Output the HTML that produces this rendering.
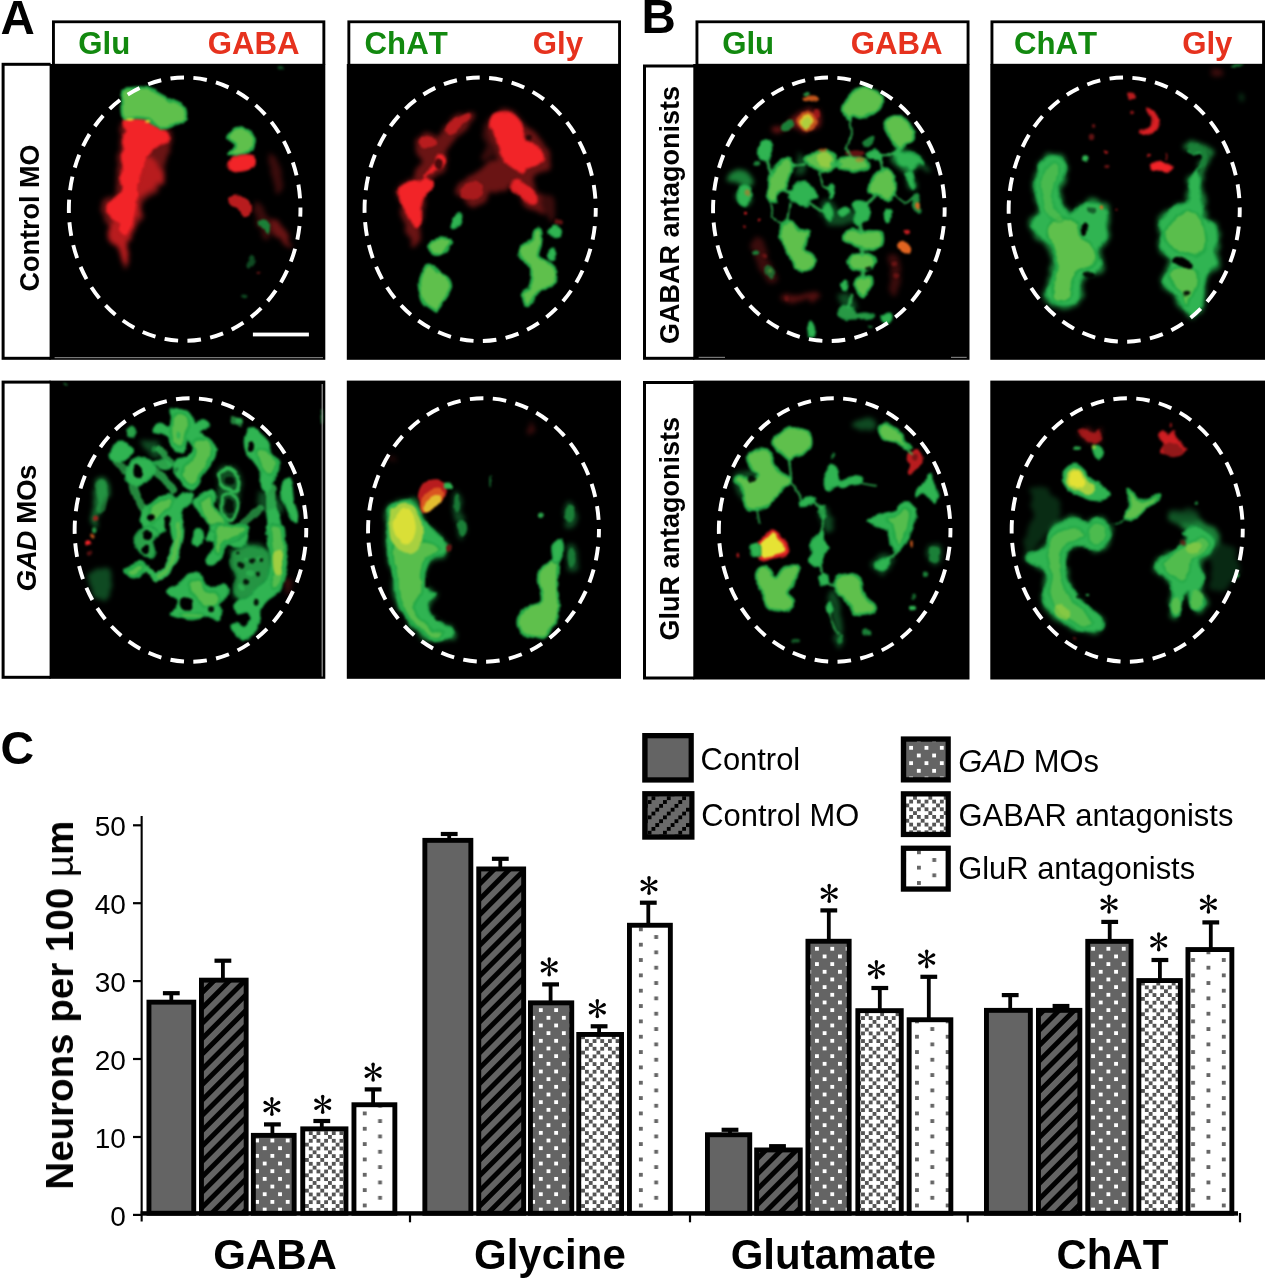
<!DOCTYPE html>
<html><head><meta charset="utf-8"><title>Figure</title>
<style>
html,body{margin:0;padding:0;background:#fff;}
svg{display:block;font-family:"Liberation Sans",sans-serif;font-kerning:none;}
</style></head><body>
<svg width="1267" height="1280" viewBox="0 0 1267 1280">
<defs>
<pattern id="pdotw" x="9.66" y="3.44" width="15.34" height="15.34" patternUnits="userSpaceOnUse"><rect width="15.34" height="15.34" fill="#646464"/><rect width="3.83" height="3.83" fill="#fff"/><rect x="7.67" y="7.67" width="3.83" height="3.83" fill="#fff"/></pattern>
<pattern id="pdotg" x="25.32" y="7.02" width="30.68" height="15.34" patternUnits="userSpaceOnUse"><rect width="30.68" height="15.34" fill="#fff"/><rect width="3.83" height="3.83" fill="#666"/><rect x="15.34" y="7.67" width="3.83" height="3.83" fill="#666"/></pattern>
<pattern id="ptrel" x="13.54" y="11.38" width="15.34" height="15.34" patternUnits="userSpaceOnUse"><rect width="15.34" height="15.34" fill="#fff"/><rect x="3.83" y="0" width="3.83" height="3.83" fill="#555"/><rect x="11.5" y="0" width="3.83" height="3.83" fill="#555"/><rect x="7.67" y="3.83" width="3.83" height="3.83" fill="#555"/><rect x="3.83" y="7.67" width="3.83" height="3.83" fill="#555"/><rect x="11.5" y="7.67" width="3.83" height="3.83" fill="#555"/><rect x="0" y="11.5" width="3.83" height="3.83" fill="#555"/></pattern>
<pattern id="phatch" x="0" y="1.03" width="10.85" height="10.85" patternUnits="userSpaceOnUse" patternTransform="rotate(-45)"><rect width="10.85" height="10.85" fill="#000"/><rect width="10.85" height="5.9" fill="#646464"/></pattern>
<pattern id="pstair" x="651.5" y="800.1" width="15.34" height="15.34" patternUnits="userSpaceOnUse"><rect width="15.34" height="15.34" fill="#6a6a6a"/><rect x="0" y="11.5" width="3.83" height="3.83" fill="#000"/><rect x="3.83" y="7.67" width="3.83" height="3.83" fill="#000"/><rect x="7.67" y="3.83" width="3.83" height="3.83" fill="#000"/><rect x="11.5" y="0" width="3.83" height="3.83" fill="#000"/></pattern>
<pattern id="ldotw" x="909.2" y="745.9" width="15.34" height="15.34" patternUnits="userSpaceOnUse"><rect width="15.34" height="15.34" fill="#646464"/><rect width="3.83" height="3.83" fill="#fff"/><rect x="7.67" y="7.67" width="3.83" height="3.83" fill="#fff"/></pattern>
<pattern id="ltrel" x="905.4" y="792" width="15.34" height="15.34" patternUnits="userSpaceOnUse"><rect width="15.34" height="15.34" fill="#fff"/><rect x="3.83" y="0" width="3.83" height="3.83" fill="#555"/><rect x="11.5" y="0" width="3.83" height="3.83" fill="#555"/><rect x="7.67" y="3.83" width="3.83" height="3.83" fill="#555"/><rect x="3.83" y="7.67" width="3.83" height="3.83" fill="#555"/><rect x="11.5" y="7.67" width="3.83" height="3.83" fill="#555"/><rect x="0" y="11.5" width="3.83" height="3.83" fill="#555"/></pattern>
<pattern id="ldotg" x="917" y="850.4" width="30.68" height="15.34" patternUnits="userSpaceOnUse"><rect width="30.68" height="15.34" fill="#fff"/><rect width="3.83" height="3.83" fill="#666"/><rect x="15.34" y="7.67" width="3.83" height="3.83" fill="#666"/></pattern>
<clipPath id="cp1"><rect x="49.5" y="64" width="275.8" height="295.8"/></clipPath>
<filter id="frp1" filterUnits="userSpaceOnUse" x="49.5" y="64" width="275.8" height="295.8" color-interpolation-filters="sRGB"><feTurbulence type="fractalNoise" baseFrequency="0.07" numOctaves="2" seed="4" result="n"/><feDisplacementMap in="SourceGraphic" in2="n" scale="5.5" xChannelSelector="R" yChannelSelector="G" result="d"/><feGaussianBlur in="d" stdDeviation="1.25"/></filter>
<filter id="fhp1" filterUnits="userSpaceOnUse" x="49.5" y="64" width="275.8" height="295.8" color-interpolation-filters="sRGB"><feTurbulence type="fractalNoise" baseFrequency="0.09" numOctaves="2" seed="12" result="n"/><feDisplacementMap in="SourceGraphic" in2="n" scale="9" xChannelSelector="G" yChannelSelector="R" result="d"/><feGaussianBlur in="d" stdDeviation="2.6"/></filter>
<clipPath id="cp2"><rect x="346.8" y="64" width="274.2" height="295.8"/></clipPath>
<filter id="frp2" filterUnits="userSpaceOnUse" x="346.8" y="64" width="274.2" height="295.8" color-interpolation-filters="sRGB"><feTurbulence type="fractalNoise" baseFrequency="0.07" numOctaves="2" seed="5" result="n"/><feDisplacementMap in="SourceGraphic" in2="n" scale="5.5" xChannelSelector="R" yChannelSelector="G" result="d"/><feGaussianBlur in="d" stdDeviation="1.25"/></filter>
<filter id="fhp2" filterUnits="userSpaceOnUse" x="346.8" y="64" width="274.2" height="295.8" color-interpolation-filters="sRGB"><feTurbulence type="fractalNoise" baseFrequency="0.09" numOctaves="2" seed="13" result="n"/><feDisplacementMap in="SourceGraphic" in2="n" scale="9" xChannelSelector="G" yChannelSelector="R" result="d"/><feGaussianBlur in="d" stdDeviation="2.6"/></filter>
<clipPath id="cp3"><rect x="693.2" y="64" width="276.3" height="295.8"/></clipPath>
<filter id="frp3" filterUnits="userSpaceOnUse" x="693.2" y="64" width="276.3" height="295.8" color-interpolation-filters="sRGB"><feTurbulence type="fractalNoise" baseFrequency="0.07" numOctaves="2" seed="6" result="n"/><feDisplacementMap in="SourceGraphic" in2="n" scale="5.5" xChannelSelector="R" yChannelSelector="G" result="d"/><feGaussianBlur in="d" stdDeviation="1.25"/></filter>
<filter id="fhp3" filterUnits="userSpaceOnUse" x="693.2" y="64" width="276.3" height="295.8" color-interpolation-filters="sRGB"><feTurbulence type="fractalNoise" baseFrequency="0.09" numOctaves="2" seed="14" result="n"/><feDisplacementMap in="SourceGraphic" in2="n" scale="9" xChannelSelector="G" yChannelSelector="R" result="d"/><feGaussianBlur in="d" stdDeviation="2.6"/></filter>
<clipPath id="cp4"><rect x="990.3" y="64" width="274.7" height="295.8"/></clipPath>
<filter id="frp4" filterUnits="userSpaceOnUse" x="990.3" y="64" width="274.7" height="295.8" color-interpolation-filters="sRGB"><feTurbulence type="fractalNoise" baseFrequency="0.07" numOctaves="2" seed="7" result="n"/><feDisplacementMap in="SourceGraphic" in2="n" scale="5.5" xChannelSelector="R" yChannelSelector="G" result="d"/><feGaussianBlur in="d" stdDeviation="1.25"/></filter>
<filter id="fhp4" filterUnits="userSpaceOnUse" x="990.3" y="64" width="274.7" height="295.8" color-interpolation-filters="sRGB"><feTurbulence type="fractalNoise" baseFrequency="0.09" numOctaves="2" seed="15" result="n"/><feDisplacementMap in="SourceGraphic" in2="n" scale="9" xChannelSelector="G" yChannelSelector="R" result="d"/><feGaussianBlur in="d" stdDeviation="2.6"/></filter>
<clipPath id="cp5"><rect x="49.5" y="380.6" width="275.8" height="298.2"/></clipPath>
<filter id="frp5" filterUnits="userSpaceOnUse" x="49.5" y="380.6" width="275.8" height="298.2" color-interpolation-filters="sRGB"><feTurbulence type="fractalNoise" baseFrequency="0.07" numOctaves="2" seed="8" result="n"/><feDisplacementMap in="SourceGraphic" in2="n" scale="5.5" xChannelSelector="R" yChannelSelector="G" result="d"/><feGaussianBlur in="d" stdDeviation="1.25"/></filter>
<filter id="fhp5" filterUnits="userSpaceOnUse" x="49.5" y="380.6" width="275.8" height="298.2" color-interpolation-filters="sRGB"><feTurbulence type="fractalNoise" baseFrequency="0.09" numOctaves="2" seed="16" result="n"/><feDisplacementMap in="SourceGraphic" in2="n" scale="9" xChannelSelector="G" yChannelSelector="R" result="d"/><feGaussianBlur in="d" stdDeviation="2.6"/></filter>
<clipPath id="cp6"><rect x="346.8" y="380.6" width="274.2" height="298.2"/></clipPath>
<filter id="frp6" filterUnits="userSpaceOnUse" x="346.8" y="380.6" width="274.2" height="298.2" color-interpolation-filters="sRGB"><feTurbulence type="fractalNoise" baseFrequency="0.07" numOctaves="2" seed="9" result="n"/><feDisplacementMap in="SourceGraphic" in2="n" scale="5.5" xChannelSelector="R" yChannelSelector="G" result="d"/><feGaussianBlur in="d" stdDeviation="1.25"/></filter>
<filter id="fhp6" filterUnits="userSpaceOnUse" x="346.8" y="380.6" width="274.2" height="298.2" color-interpolation-filters="sRGB"><feTurbulence type="fractalNoise" baseFrequency="0.09" numOctaves="2" seed="17" result="n"/><feDisplacementMap in="SourceGraphic" in2="n" scale="9" xChannelSelector="G" yChannelSelector="R" result="d"/><feGaussianBlur in="d" stdDeviation="2.6"/></filter>
<clipPath id="cp7"><rect x="693.2" y="380.6" width="276.3" height="298.9"/></clipPath>
<filter id="frp7" filterUnits="userSpaceOnUse" x="693.2" y="380.6" width="276.3" height="298.9" color-interpolation-filters="sRGB"><feTurbulence type="fractalNoise" baseFrequency="0.07" numOctaves="2" seed="10" result="n"/><feDisplacementMap in="SourceGraphic" in2="n" scale="5.5" xChannelSelector="R" yChannelSelector="G" result="d"/><feGaussianBlur in="d" stdDeviation="1.25"/></filter>
<filter id="fhp7" filterUnits="userSpaceOnUse" x="693.2" y="380.6" width="276.3" height="298.9" color-interpolation-filters="sRGB"><feTurbulence type="fractalNoise" baseFrequency="0.09" numOctaves="2" seed="18" result="n"/><feDisplacementMap in="SourceGraphic" in2="n" scale="9" xChannelSelector="G" yChannelSelector="R" result="d"/><feGaussianBlur in="d" stdDeviation="2.6"/></filter>
<clipPath id="cp8"><rect x="990.3" y="380.6" width="274.7" height="298.9"/></clipPath>
<filter id="frp8" filterUnits="userSpaceOnUse" x="990.3" y="380.6" width="274.7" height="298.9" color-interpolation-filters="sRGB"><feTurbulence type="fractalNoise" baseFrequency="0.07" numOctaves="2" seed="11" result="n"/><feDisplacementMap in="SourceGraphic" in2="n" scale="5.5" xChannelSelector="R" yChannelSelector="G" result="d"/><feGaussianBlur in="d" stdDeviation="1.25"/></filter>
<filter id="fhp8" filterUnits="userSpaceOnUse" x="990.3" y="380.6" width="274.7" height="298.9" color-interpolation-filters="sRGB"><feTurbulence type="fractalNoise" baseFrequency="0.09" numOctaves="2" seed="19" result="n"/><feDisplacementMap in="SourceGraphic" in2="n" scale="9" xChannelSelector="G" yChannelSelector="R" result="d"/><feGaussianBlur in="d" stdDeviation="2.6"/></filter>
</defs>
<rect width="1267" height="1280" fill="#fff"/>
<rect x="49.5" y="64" width="275.8" height="295.8" fill="#000"/>
<rect x="346.8" y="64" width="274.2" height="295.8" fill="#000"/>
<rect x="693.2" y="64" width="276.3" height="295.8" fill="#000"/>
<rect x="990.3" y="64" width="274.7" height="295.8" fill="#000"/>
<rect x="49.5" y="380.6" width="275.8" height="298.2" fill="#000"/>
<rect x="346.8" y="380.6" width="274.2" height="298.2" fill="#000"/>
<rect x="693.2" y="380.6" width="276.3" height="298.9" fill="#000"/>
<rect x="990.3" y="380.6" width="274.7" height="298.9" fill="#000"/>
<rect x="52" y="20.4" width="273.3" height="44.1" fill="#000"/>
<rect x="54.9" y="23.2" width="267.5" height="40.6" fill="#fff"/>
<rect x="347.4" y="20.4" width="273.6" height="44.1" fill="#000"/>
<rect x="350.3" y="23.2" width="267.8" height="40.6" fill="#fff"/>
<rect x="695.5" y="20.4" width="274" height="44.1" fill="#000"/>
<rect x="698.4" y="23.2" width="268.2" height="40.6" fill="#fff"/>
<rect x="990.5" y="20.4" width="274.5" height="44.1" fill="#000"/>
<rect x="993.4" y="23.2" width="268.7" height="40.6" fill="#fff"/>
<rect x="1.6" y="62.8" width="49" height="297" fill="#000"/>
<rect x="4.6" y="65.8" width="45" height="291" fill="#fff"/>
<rect x="1.6" y="380.6" width="49" height="298.2" fill="#000"/>
<rect x="4.6" y="383.6" width="45" height="292.2" fill="#fff"/>
<rect x="643" y="64.5" width="51.3" height="295.3" fill="#000"/>
<rect x="646" y="67.5" width="47.3" height="289.3" fill="#fff"/>
<rect x="643" y="381" width="51.3" height="298.5" fill="#000"/>
<rect x="646" y="384" width="47.3" height="292.5" fill="#fff"/>
<g clip-path="url(#cp1)"><g filter="url(#fhp1)"><path d="M122.83,121.8C127.26,118.72 139.21,117.95 147.11,119.49C155.01,121.03 165.99,127.2 170.23,131.05C174.47,134.91 173.31,137.6 172.54,142.61C171.77,147.62 166.76,155.71 165.61,161.11C164.45,166.5 166.76,170.36 165.61,174.98C164.45,179.61 162.14,184.62 158.67,188.86C155.2,193.09 147.69,195.79 144.8,200.42C141.91,205.04 142.87,211.59 141.33,216.6C139.79,221.61 137.48,225.46 135.55,230.47C133.62,235.48 130.92,240.49 129.77,246.66C128.61,252.82 129.65,264.39 128.61,267.47C127.57,270.55 125.45,267.85 123.53,265.16C121.6,262.46 119.48,255.91 117.05,251.28C114.62,246.66 110.31,241.65 108.96,237.41C107.61,233.17 110.12,230.09 108.96,225.85C107.8,221.61 102.79,216.41 102.02,211.98C101.25,207.55 102.22,202.34 104.34,199.26C106.45,196.18 112.62,197.53 114.74,193.48C116.86,189.43 116.28,181.15 117.05,174.98C117.82,168.82 118.79,162.65 119.36,156.49C119.94,150.32 119.94,143.77 120.52,137.99C121.1,132.21 118.4,124.89 122.83,121.8Z" fill="#6a1414"/>
<path d="M142.49,156.49C146.34,153.79 152.81,160.72 156.36,163.42C159.9,166.12 162.99,169.39 163.76,172.67C164.53,175.95 162.99,180.18 160.98,183.08C158.98,185.97 155.01,187.51 151.73,190.01C148.46,192.52 143.64,193.67 141.33,198.1C139.02,202.54 139.6,211.21 137.86,216.6C136.13,222 132.47,225.08 130.92,230.47C129.38,235.87 129.31,243.27 128.61,248.97C127.92,254.67 127.61,262.57 126.76,264.69C125.92,266.81 124.76,263.92 123.53,261.69C122.29,259.45 121.02,254.37 119.36,251.28C117.71,248.2 115.2,245.89 113.58,243.19C111.97,240.49 110.04,237.99 109.65,235.1C109.27,232.21 109.65,231.24 111.27,225.85C112.89,220.45 115.7,210.44 119.36,202.73C123.03,195.02 129.38,187.31 133.24,179.61C137.09,171.9 138.63,159.18 142.49,156.49Z" fill="#b81c1e"/>
<path d="M268.5,154.17C269.27,151.48 273.31,153.4 275.43,156.49C277.55,159.57 280.44,166.5 281.21,172.67C281.98,178.84 281.21,190.78 280.06,193.48C278.9,196.18 275.82,192.32 274.28,188.86C272.74,185.39 271.77,178.45 270.81,172.67C269.85,166.89 267.73,156.87 268.5,154.17Z" fill="#3a0c0c"/>
<path d="M268.5,218.91C269.65,216.99 275.63,218.53 278.9,221.23C282.18,223.92 286.42,230.86 288.15,235.1C289.88,239.34 290.46,245.5 289.31,246.66C288.15,247.82 284.1,244.35 281.21,242.03C278.32,239.72 274.08,236.64 271.97,232.79C269.85,228.93 267.34,220.84 268.5,218.91Z" fill="#6a1414"/>
<path d="M253.47,202.73C254.62,200.42 261.95,208.12 265.03,211.98C268.11,215.83 271.58,221.23 271.97,225.85C272.35,230.47 269.65,239.72 267.34,239.72C265.03,239.72 260.4,232.02 258.09,225.85C255.78,219.68 252.31,205.04 253.47,202.73Z" fill="#3a0c0c"/></g><g filter="url(#frp1)"><path d="M124.45,120.65C126.53,118.64 133.7,118.91 137.86,119.03C142.02,119.14 145.95,119.8 149.42,121.34C152.89,122.88 155.51,126.35 158.67,128.28C161.83,130.2 166.65,130.9 168.38,132.9C170.12,134.91 170.12,138.3 169.08,140.3C168.03,142.3 164.84,143.31 162.14,144.92C159.44,146.54 155.47,148.01 152.89,150.01C150.31,152.02 148.19,154.33 146.65,156.95C145.11,159.57 144.53,162.73 143.64,165.73C142.76,168.74 142.29,171.9 141.33,174.98C140.37,178.07 138.25,181.15 137.86,184.23C137.48,187.31 139.09,190.01 139.02,193.48C138.94,196.95 137.98,201.19 137.4,205.04C136.82,208.89 136.55,213.13 135.55,216.6C134.55,220.07 132.54,222.96 131.39,225.85C130.23,228.74 129.77,232.21 128.61,233.94C127.46,235.68 125.99,236.83 124.45,236.25C122.91,235.68 120.02,232.59 119.36,230.47C118.71,228.35 121.1,225.27 120.52,223.54C119.94,221.8 117.71,221.42 115.9,220.07C114.08,218.72 111.39,217.26 109.65,215.45C107.92,213.63 105.8,211.4 105.49,209.2C105.18,207.01 106.07,204.31 107.8,202.27C109.54,200.22 113.58,199.38 115.9,196.95C118.21,194.52 121.1,190.97 121.68,187.7C122.25,184.42 119.17,180.57 119.36,177.29C119.56,174.02 122.52,171.51 122.83,168.05C123.14,164.58 120.94,159.95 121.21,156.49C121.48,153.02 124.3,150.32 124.45,147.24C124.61,144.15 121.98,140.69 122.14,137.99C122.29,135.29 124.99,133.94 125.38,131.05C125.76,128.16 122.37,122.65 124.45,120.65Z" fill="#f22428" stroke="#c01c20" stroke-width="1.5" stroke-linejoin="round"/>
<path d="M123.53,89.9C124.72,88.55 126.61,88.66 129.77,88.28C132.93,87.89 138.44,87.12 142.49,87.58C146.53,88.05 150.58,89.7 154.05,91.05C157.51,92.4 160.21,93.94 163.29,95.68C166.38,97.41 169.27,99.72 172.54,101.46C175.82,103.19 180.71,104.04 182.95,106.08C185.18,108.12 185.84,111.28 185.95,113.71C186.07,116.14 185.49,118.84 183.64,120.65C181.79,122.46 177.86,123.31 174.86,124.58C171.85,125.85 168.69,128.16 165.61,128.28C162.52,128.39 159.06,126.74 156.36,125.27C153.66,123.81 152.5,120.76 149.42,119.49C146.34,118.22 142.02,117.83 137.86,117.64C133.7,117.45 126.99,120.34 124.45,118.34C121.91,116.33 122.91,109.28 122.6,105.62C122.29,101.96 122.45,98.99 122.6,96.37C122.76,93.75 122.33,91.24 123.53,89.9Z" fill="#5fc04c" stroke="#22a846" stroke-width="2.6" stroke-linejoin="round"/>
<ellipse cx="130.92" cy="119.49" rx="3.7" ry="1.16" fill="#e6e234" opacity="0.9"/>
<ellipse cx="148.27" cy="120.88" rx="2.31" ry="1.16" fill="#e6e234" opacity="0.8"/>
<path d="M227.57,137.99C227.42,136.18 230.27,132.32 232.66,130.59C235.05,128.86 238.9,127.24 241.91,127.58C244.91,127.93 248.57,130.55 250.69,132.67C252.81,134.79 254.62,137.56 254.62,140.3C254.62,143.04 252.81,146.77 250.69,149.09C248.57,151.4 245.22,153.21 241.91,154.17C238.59,155.14 233.04,155.18 230.81,154.87C228.57,154.56 227.73,153.52 228.5,152.32C229.27,151.13 234.59,149.51 235.43,147.7C236.28,145.89 234.89,143.08 233.58,141.46C232.27,139.84 227.73,139.8 227.57,137.99Z" fill="#5fc04c" stroke="#22a846" stroke-width="2.6" stroke-linejoin="round"/>
<path d="M229.65,161.57C230.66,159.61 232.16,158.1 234.97,156.95C237.78,155.79 243.37,154.64 246.53,154.64C249.69,154.64 252.77,155.1 253.93,156.95C255.09,158.8 254.7,163.58 253.47,165.73C252.24,167.89 249.61,168.89 246.53,169.9C243.45,170.9 237.9,171.94 234.97,171.75C232.04,171.55 229.85,170.44 228.96,168.74C228.07,167.04 228.65,163.54 229.65,161.57Z" fill="#f22428" stroke="#c01c20" stroke-width="1.5" stroke-linejoin="round"/>
<path d="M228.03,199.26C228.03,196.83 232.27,194.25 234.97,193.94C237.67,193.63 241.6,195.56 244.22,197.41C246.84,199.26 249.81,202.11 250.69,205.04C251.58,207.97 250.62,213.13 249.54,214.98C248.46,216.83 246.65,217.22 244.22,216.14C241.79,215.06 237.67,211.32 234.97,208.51C232.27,205.7 228.03,201.69 228.03,199.26Z" fill="#b81c1e"/>
<path d="M257.63,223.54C257.82,221.69 261.87,218.99 263.87,219.38C265.88,219.76 268.88,223.31 269.65,225.85C270.42,228.39 269.65,233.87 268.5,234.64C267.34,235.41 264.53,232.32 262.72,230.47C260.91,228.62 257.44,225.39 257.63,223.54Z" fill="#1b8038"/>
<path d="M246.53,265.16C247.11,262.84 250.96,255.52 252.31,254.75C253.66,253.98 255.2,258.22 254.62,260.53C254.05,262.84 250.19,267.85 248.84,268.62C247.5,269.39 245.95,267.47 246.53,265.16Z" fill="#0f4a22"/>
<ellipse cx="244.68" cy="296.37" rx="2.77" ry="1.85" fill="#0f4a22"/>
<ellipse cx="281.21" cy="68.62" rx="2.77" ry="1.85" fill="#0f4a22"/>
<circle cx="259.25" cy="273.25" r="1.85" fill="#6a1414"/></g></g>
<g clip-path="url(#cp2)"><g filter="url(#fhp2)"><path d="M418.99,140.3C420.34,137.22 422.84,134.13 425.92,133.36C429.01,132.59 434.4,136.83 437.49,135.68C440.57,134.52 441.34,129.7 444.42,126.43C447.5,123.15 451.74,118.34 455.98,116.02C460.22,113.71 467.35,111.98 469.86,112.55C472.36,113.13 472.17,116.41 471.01,119.49C469.86,122.57 465.81,127.58 462.92,131.05C460.03,134.52 456.37,136.83 453.67,140.3C450.97,143.77 447.89,147.62 446.73,151.86C445.58,156.1 448.28,161.88 446.73,165.73C445.19,169.59 441.72,171.9 437.49,174.98C433.25,178.07 425.15,184.23 421.3,184.23C417.45,184.23 414.36,178.84 414.36,174.98C414.36,171.13 420.72,164.96 421.3,161.11C421.88,157.26 418.22,155.33 417.83,151.86C417.45,148.39 417.64,143.38 418.99,140.3Z" fill="#6a1414"/>
<path d="M400.49,184.23C404.15,180.38 417.06,178.07 421.3,179.61C425.54,181.15 425.73,188.08 425.92,193.48C426.12,198.87 423.23,206.58 422.46,211.98C421.69,217.37 422.26,220.07 421.3,225.85C420.34,231.63 418.8,244.35 416.68,246.66C414.56,248.97 410.7,243.96 408.58,239.72C406.46,235.48 405.5,227.39 403.96,221.23C402.42,215.06 399.91,208.89 399.34,202.73C398.76,196.56 396.83,188.08 400.49,184.23Z" fill="#6a1414"/>
<path d="M458.29,184.23C460.61,181.15 465.62,180.38 469.86,177.29C474.09,174.21 479.87,168.43 483.73,165.73C487.58,163.04 489.89,161.5 492.98,161.11C496.06,160.72 499.14,161.11 502.23,163.42C505.31,165.73 510.7,170.74 511.47,174.98C512.24,179.22 509.93,185.77 506.85,188.86C503.77,191.94 496.83,191.17 492.98,193.48C489.12,195.79 486.81,200.42 483.73,202.73C480.65,205.04 477.56,207.74 474.48,207.35C471.4,206.97 468.31,202.34 465.23,200.42C462.15,198.49 457.14,198.49 455.98,195.79C454.83,193.09 455.98,187.31 458.29,184.23Z" fill="#6a1414"/>
<path d="M483.73,126.43C484.88,122.57 491.05,119.49 492.98,121.8C494.9,124.12 495.29,134.52 495.29,140.3C495.29,146.08 495.29,153.02 492.98,156.49C490.66,159.95 482.57,163.04 481.42,161.11C480.26,159.18 485.66,150.71 486.04,144.92C486.43,139.14 482.57,130.28 483.73,126.43Z" fill="#3a0c0c"/>
<path d="M492.98,113.71C497.02,110.63 506.08,108.51 511.47,110.24C516.87,111.98 521.11,120.26 525.35,124.12C529.59,127.97 533.05,128.74 536.91,133.36C540.76,137.99 546.16,146.47 548.47,151.86C550.78,157.26 551.94,162.27 550.78,165.73C549.62,169.2 544.61,170.36 541.53,172.67C538.45,174.98 532.67,176.14 532.28,179.61C531.9,183.08 536.52,188.86 539.22,193.48C541.92,198.1 546.16,203.5 548.47,207.35C550.78,211.21 553.86,215.45 553.09,216.6C552.32,217.76 547.7,215.83 543.84,214.29C539.99,212.75 534.6,210.82 529.97,207.35C525.35,203.88 519.95,198.1 516.1,193.48C512.24,188.86 509.93,184.62 506.85,179.61C503.77,174.6 499.91,169.59 497.6,163.42C495.29,157.26 494.71,148.39 492.98,142.61C491.24,136.83 487.2,133.56 487.2,128.74C487.2,123.92 488.93,116.79 492.98,113.71Z" fill="#6a1414"/>
<path d="M541.53,193.48C543.07,191.17 550.78,195.02 553.09,198.1C555.4,201.19 555.79,208.12 555.4,211.98C555.02,215.83 552.71,221.23 550.78,221.23C548.85,221.23 545.39,216.6 543.84,211.98C542.3,207.35 539.99,195.79 541.53,193.48Z" fill="#3a0c0c"/></g><g filter="url(#frp2)"><path d="M400.03,187.7C401.26,184.69 403.88,183.65 407.43,182.38C410.97,181.11 417.64,181.5 421.3,180.07C424.96,178.64 426.7,175.64 429.39,173.83C432.09,172.02 434.9,171.13 437.49,169.2C440.07,167.28 443.81,164.39 444.88,162.27C445.96,160.15 444.88,157.76 443.96,156.49C443.03,155.21 440.72,153.87 439.34,154.64C437.95,155.41 437.02,158.8 435.64,161.11C434.25,163.42 432.82,166.12 431.01,168.51C429.2,170.9 424.27,173.02 424.77,175.45C425.27,177.87 433.75,180.07 434.02,183.08C434.29,186.08 428.43,189.43 426.39,193.48C424.34,197.53 422.61,202.73 421.76,207.35C420.92,211.98 421.96,217.83 421.3,221.23C420.65,224.62 419.45,227.31 417.83,227.7C416.21,228.08 413.63,226.16 411.59,223.54C409.55,220.92 407.5,215.83 405.58,211.98C403.65,208.12 400.95,204.46 400.03,200.42C399.1,196.37 398.8,190.71 400.03,187.7Z" fill="#f22428" stroke="#c01c20" stroke-width="1.5" stroke-linejoin="round"/>
<path d="M420.14,140.3C420.92,138.3 423.61,135.6 425.92,135.21C428.24,134.83 432.4,136.37 434.02,137.99C435.64,139.61 436.6,143.19 435.64,144.92C434.67,146.66 430.63,148.01 428.24,148.39C425.85,148.78 422.65,148.59 421.3,147.24C419.95,145.89 419.37,142.3 420.14,140.3Z" fill="#b81c1e"/>
<path d="M446.73,126.43C448.28,123.92 452.32,120.57 455.98,118.34C459.64,116.1 466.39,113.02 468.7,113.02C471.01,113.02 471.2,116.1 469.86,118.34C468.51,120.57 463.69,123.54 460.61,126.43C457.52,129.32 453.67,134.52 451.36,135.68C449.05,136.83 447.5,134.91 446.73,133.36C445.96,131.82 445.19,128.93 446.73,126.43Z" fill="#b81c1e"/>
<path d="M434.02,163.42C434.67,161.88 437.37,159.26 438.64,159.26C439.91,159.26 441.65,161.76 441.65,163.42C441.65,165.08 439.8,168.35 438.64,169.2C437.49,170.05 435.48,169.47 434.71,168.51C433.94,167.55 433.36,164.96 434.02,163.42Z" fill="#000000" opacity="0.7"/>
<path d="M493.44,114.4C496.37,111.98 502.88,111.32 506.85,111.86C510.82,112.4 514.63,114.83 517.25,117.64C519.87,120.45 520.92,124.96 522.57,128.74C524.23,132.52 524.11,136.76 527.2,140.3C530.28,143.85 538.37,146.93 541.07,150.01C543.77,153.09 544.08,156.45 543.38,158.8C542.69,161.15 539.53,162.65 536.91,164.12C534.29,165.58 530.28,165.85 527.66,167.58C525.04,169.32 523.81,174.83 521.18,174.52C518.56,174.21 515.02,168.35 511.94,165.73C508.85,163.11 505,162.27 502.69,158.8C500.38,155.33 499.61,149.16 498.06,144.92C496.52,140.69 494.9,136.45 493.44,133.36C491.97,130.28 489.28,129.59 489.28,126.43C489.28,123.27 490.51,116.83 493.44,114.4Z" fill="#f22428" stroke="#c01c20" stroke-width="1.5" stroke-linejoin="round"/>
<path d="M514.25,180.07C516.41,179.38 522.03,182.77 525.35,184.69C528.66,186.62 532.36,188.7 534.13,191.63C535.91,194.56 536.68,200.18 535.98,202.27C535.29,204.35 532.44,205.19 529.97,204.12C527.5,203.04 524.11,198.34 521.18,195.79C518.26,193.25 513.55,191.48 512.4,188.86C511.24,186.24 512.09,180.76 514.25,180.07Z" fill="#f22428" stroke="#c01c20" stroke-width="1.5" stroke-linejoin="round" opacity="0.9"/>
<path d="M460.61,188.86C462.15,186.35 466.39,182.69 469.86,181.92C473.32,181.15 479.87,181.92 481.42,184.23C482.96,186.54 481.03,193.29 479.1,195.79C477.18,198.3 472.94,199.07 469.86,199.26C466.77,199.45 462.15,198.68 460.61,196.95C459.07,195.21 459.07,191.36 460.61,188.86Z" fill="#b81c1e" opacity="0.8"/>
<circle cx="529.97" cy="137.53" r="2.77" fill="#000000" opacity="0.6"/>
<path d="M428.7,246.66C429.39,244.31 432.55,240.49 435.17,239.03C437.79,237.56 441.8,237.37 444.42,237.87C447.04,238.37 450.51,240.18 450.9,242.03C451.28,243.88 448.58,246.93 446.73,248.97C444.88,251.01 442.42,253.6 439.8,254.29C437.18,254.98 432.86,254.4 431.01,253.13C429.16,251.86 428.01,249.01 428.7,246.66Z" fill="#5fc04c" stroke="#22a846" stroke-width="2.6" stroke-linejoin="round"/>
<path d="M419.45,279.03C420.22,275.25 422.03,270.24 424.08,267.93C426.12,265.62 429.47,264.46 431.71,265.16C433.94,265.85 434.98,270.09 437.49,272.09C439.99,274.1 444.5,274.87 446.73,277.18C448.97,279.49 450.78,282.96 450.9,285.97C451.01,288.97 449.08,292.13 447.43,295.21C445.77,298.3 442.73,301.76 440.95,304.46C439.18,307.16 438.26,310.71 436.79,311.4C435.33,312.09 434.29,310.17 432.17,308.62C430.05,307.08 426.19,305.16 424.08,302.15C421.96,299.14 420.22,294.44 419.45,290.59C418.68,286.74 418.68,282.81 419.45,279.03Z" fill="#5fc04c" stroke="#22a846" stroke-width="2.6" stroke-linejoin="round"/>
<path d="M451.82,223.54C452.13,221.19 454.33,216.22 455.98,214.75C457.64,213.29 461.18,213.29 461.76,214.75C462.34,216.22 460.72,221.19 459.45,223.54C458.18,225.89 455.4,228.86 454.13,228.86C452.86,228.86 451.51,225.89 451.82,223.54Z" fill="#30b452" stroke="#1c9a44" stroke-width="1.5" stroke-linejoin="round"/>
<path d="M518.87,251.28C519.45,249.05 521.26,246.66 523.5,244.81C525.73,242.96 530.43,242.5 532.28,240.18C534.13,237.87 533.25,232.67 534.6,230.94C535.94,229.2 539.3,227.93 540.38,229.78C541.45,231.63 541.45,237.68 541.07,242.03C540.68,246.39 536.83,252.44 538.06,255.91C539.3,259.38 545.46,260.15 548.47,262.84C551.47,265.54 555.4,268.62 556.1,272.09C556.79,275.56 554.67,280.84 552.63,283.65C550.59,286.47 546.85,287.12 543.84,288.97C540.84,290.82 537.1,291.86 534.6,294.75C532.09,297.64 530.47,304.77 528.82,306.31C527.16,307.85 525.54,306.24 524.65,304C523.77,301.76 522.61,295.91 523.5,292.9C524.38,289.9 528.51,289.43 529.97,285.97C531.44,282.5 532.67,275.95 532.28,272.09C531.9,268.24 529.7,265.16 527.66,262.84C525.62,260.53 521.49,260.15 520.03,258.22C518.56,256.29 518.29,253.52 518.87,251.28Z" fill="#5fc04c" stroke="#22a846" stroke-width="2.6" stroke-linejoin="round"/>
<path d="M548.93,230.47C549.12,228.7 552.09,226.43 554.25,226.31C556.41,226.2 560.8,228.12 561.88,229.78C562.96,231.44 562.19,235.06 560.72,236.25C559.26,237.45 555.06,237.91 553.09,236.95C551.13,235.98 548.74,232.25 548.93,230.47Z" fill="#30b452" stroke="#1c9a44" stroke-width="1.5" stroke-linejoin="round"/>
<path d="M547.77,253.6C548.47,251.63 551.71,247.51 553.09,247.12C554.48,246.74 556.1,249.13 556.1,251.28C556.1,253.44 554.29,258.8 553.09,260.07C551.9,261.34 549.82,259.99 548.93,258.91C548.04,257.83 547.08,255.56 547.77,253.6Z" fill="#30b452" stroke="#1c9a44" stroke-width="1.5" stroke-linejoin="round"/>
<ellipse cx="558.87" cy="222.38" rx="5.09" ry="2.77" fill="#6a1414" opacity="0.9"/></g></g>
<g clip-path="url(#cp3)"><g filter="url(#fhp3)"><path d="M726.99,177.29C727.57,175.75 732.39,173.25 736.24,172.67C740.1,172.09 747.42,172.29 750.12,173.83C752.81,175.37 752.81,179.03 752.43,181.92C752.04,184.81 748,188.08 747.8,191.17C747.61,194.25 751.66,197.72 751.27,200.42C750.89,203.11 747.61,206.97 745.49,207.35C743.37,207.74 739.9,205.04 738.55,202.73C737.21,200.42 736.82,196.56 737.4,193.48C737.98,190.4 742.79,186.16 742.02,184.23C741.25,182.3 735.28,183.08 732.77,181.92C730.27,180.76 726.42,178.84 726.99,177.29Z" fill="#1b8038"/>
<path d="M893.47,151.86C894.82,149.16 900.79,148.78 905.03,149.55C909.27,150.32 915.24,153.79 918.9,156.49C922.56,159.18 925.45,163.23 926.99,165.73C928.54,168.24 929.5,171.51 928.15,171.51C926.8,171.51 921.6,165.54 918.9,165.73C916.2,165.93 912.54,169.59 911.97,172.67C911.39,175.75 915.43,181.15 915.43,184.23C915.43,187.31 913.7,192.71 911.97,191.17C910.23,189.63 907.53,179.22 905.03,174.98C902.52,170.74 898.86,169.59 896.94,165.73C895.01,161.88 892.12,154.56 893.47,151.86Z" fill="#1b8038"/>
<path d="M798.67,151.86C799.83,151.48 804.84,157.64 805.61,161.11C806.38,164.58 804.84,170.36 803.29,172.67C801.75,174.98 797.13,176.52 796.36,174.98C795.59,173.44 798.29,167.28 798.67,163.42C799.06,159.57 797.51,152.25 798.67,151.86Z" fill="#0f4a22"/>
<path d="M819.48,202.73C820.64,199.26 830.27,198.87 833.35,200.42C836.44,201.96 834.89,210.82 837.98,211.98C841.06,213.13 848.77,205.81 851.85,207.35C854.93,208.89 858.79,218.14 856.47,221.23C854.16,224.31 842.99,225.85 837.98,225.85C832.97,225.85 829.5,225.08 826.42,221.23C823.33,217.37 818.32,206.2 819.48,202.73Z" fill="#0f4a22"/>
<path d="M888.84,253.6C890,250.9 896.17,252.82 898.09,255.91C900.02,258.99 900.79,265.54 900.4,272.09C900.02,278.64 897.71,291.75 895.78,295.21C893.85,298.68 889.61,296.76 888.84,292.9C888.07,289.05 891.16,278.64 891.16,272.09C891.16,265.54 887.69,256.29 888.84,253.6Z" fill="#3a0c0c"/>
<path d="M752.43,239.72C754.16,237.8 761.29,238.57 763.99,242.03C766.69,245.5 766.3,254.37 768.61,260.53C770.92,266.7 777.86,275.56 777.86,279.03C777.86,282.5 771.7,283.27 768.61,281.34C765.53,279.41 761.87,272.09 759.36,267.47C756.86,262.84 754.74,258.22 753.58,253.6C752.43,248.97 750.69,241.65 752.43,239.72Z" fill="#3a0c0c"/>
<path d="M784.8,295.21C789.61,294.06 809.65,293.29 814.86,294.06C820.06,294.83 820.83,298.68 816.01,299.84C811.19,300.99 791.16,301.76 785.95,300.99C780.75,300.22 779.98,296.37 784.8,295.21Z" fill="#6a1414" opacity="0.8"/>
<path d="M794.05,116.02C797.13,113.71 801.37,110.05 805.61,109.09C809.85,108.12 816.78,108.51 819.48,110.24C822.18,111.98 822.56,116.02 821.79,119.49C821.02,122.96 818.32,129.13 814.86,131.05C811.39,132.98 805.22,131.44 800.98,131.05C796.74,130.67 793.66,128.35 789.42,128.74C785.18,129.13 778.25,133.17 775.55,133.36C772.85,133.56 771.31,131.63 773.24,129.9C775.16,128.16 783.64,125.27 787.11,122.96C790.58,120.65 790.96,118.34 794.05,116.02Z" fill="#6a1414"/>
<path d="M837.98,295.21C839.52,293.67 848.77,295.21 851.85,297.53C854.93,299.84 858.02,307.55 856.47,309.09C854.93,310.63 845.68,309.09 842.6,306.77C839.52,304.46 836.44,296.76 837.98,295.21Z" fill="#0f4a22"/></g><g filter="url(#frp3)"><path d="M843.06,109.09C843.37,105.39 846.53,100.42 849.54,96.83C852.54,93.25 856.86,88.55 861.1,87.58C865.34,86.62 871.39,89.2 874.97,91.05C878.55,92.9 881.71,95.87 882.6,98.68C883.49,101.5 882.33,105.31 880.29,107.93C878.25,110.55 873.55,112.75 870.35,114.4C867.15,116.06 864.18,117.68 861.1,117.87C858.02,118.07 854.08,115.37 851.85,115.56C849.61,115.75 849.15,120.11 847.69,119.03C846.22,117.95 842.76,112.79 843.06,109.09Z" fill="#5fc04c" stroke="#22a846" stroke-width="2.6" stroke-linejoin="round"/>
<path d="M884.68,124.12C885.57,121.3 890.08,117.18 893.47,116.49C896.86,115.79 901.83,117.72 905.03,119.95C908.23,122.19 911.39,126.5 912.66,129.9C913.93,133.29 913.93,138.07 912.66,140.3C911.39,142.54 907.07,141.84 905.03,143.31C902.99,144.77 902.33,149.2 900.4,149.09C898.48,148.97 895.51,145.23 893.47,142.61C891.43,139.99 889.61,136.45 888.15,133.36C886.69,130.28 883.8,126.93 884.68,124.12Z" fill="#5fc04c" stroke="#22a846" stroke-width="2.6" stroke-linejoin="round"/>
<path d="M894.62,153.02C895.78,150.9 901.18,150.05 905.03,150.71C908.88,151.36 914.47,154.44 917.75,156.95C921.02,159.45 924.68,164.58 924.68,165.73C924.68,166.89 920.06,163.04 917.75,163.88C915.43,164.73 912.54,170.51 910.81,170.82C909.08,171.13 909.46,166.97 907.34,165.73C905.22,164.5 900.21,165.54 898.09,163.42C895.97,161.3 893.47,155.14 894.62,153.02Z" fill="#30b452" stroke="#1c9a44" stroke-width="1.5" stroke-linejoin="round"/>
<path d="M906.18,172.67C906.96,171.44 910.54,170.28 911.97,172.21C913.39,174.13 914.82,181.26 914.74,184.23C914.66,187.2 912.74,190.78 911.5,190.01C910.27,189.24 908.23,182.5 907.34,179.61C906.45,176.72 905.41,173.9 906.18,172.67Z" fill="#30b452" stroke="#1c9a44" stroke-width="1.5" stroke-linejoin="round"/>
<path d="M796.36,119.95C796.78,117.56 800.21,114.56 802.6,113.25C804.99,111.94 808.34,111.05 810.69,112.09C813.04,113.13 816.17,116.72 816.71,119.49C817.24,122.27 815.59,126.74 813.93,128.74C812.27,130.74 809.08,131.71 806.76,131.51C804.45,131.32 801.79,129.51 800.06,127.58C798.32,125.66 795.93,122.34 796.36,119.95Z" fill="#e26420" opacity="0.75"/>
<path d="M799.13,121.8C799.48,120.22 802.45,117.1 804.22,116.02C805.99,114.94 808.23,114.44 809.77,115.33C811.31,116.22 813.24,119.38 813.47,121.34C813.7,123.31 812.27,125.85 811.16,127.12C810.04,128.39 808.27,129.24 806.76,128.97C805.26,128.7 803.41,126.7 802.14,125.5C800.87,124.31 798.79,123.38 799.13,121.8Z" fill="#e6e234" opacity="0.8"/>
<path d="M801.45,122.27C801.71,120.57 804.64,117.72 806.3,117.64C807.96,117.56 810.73,120.15 811.39,121.8C812.04,123.46 811.35,126.58 810.23,127.58C809.11,128.59 806.15,128.7 804.68,127.82C803.22,126.93 801.18,123.96 801.45,122.27Z" fill="#a8d040" opacity="0.9"/>
<ellipse cx="816.71" cy="113.71" rx="3.24" ry="5.09" fill="#b81c1e" opacity="0.7"/>
<path d="M803.29,96.83C805.03,96.02 812.24,95.37 814.86,95.68C817.48,95.98 819.79,97.68 819.02,98.68C818.25,99.68 812.66,101.38 810.23,101.69C807.8,102 805.61,101.34 804.45,100.53C803.29,99.72 801.56,97.64 803.29,96.83Z" fill="#e26420" opacity="0.85"/>
<ellipse cx="805.61" cy="93.6" rx="3.24" ry="1.85" fill="#30b452" opacity="0.8"/>
<path d="M782.49,124.12C784.22,122.57 789.81,120.26 791.73,120.65C793.66,121.03 794.82,124.69 794.05,126.43C793.28,128.16 789.23,130.47 787.11,131.05C784.99,131.63 782.1,131.05 781.33,129.9C780.56,128.74 780.75,125.66 782.49,124.12Z" fill="#1b8038"/>
<path d="M758.67,151.86C758.86,149.13 760.29,144.92 762.14,143.08C763.99,141.23 768,139.68 769.77,140.76C771.54,141.84 772.97,146.62 772.77,149.55C772.58,152.48 770.58,156.68 768.61,158.34C766.65,159.99 762.64,160.57 760.98,159.49C759.33,158.41 758.48,154.6 758.67,151.86Z" fill="#30b452" stroke="#1c9a44" stroke-width="1.5" stroke-linejoin="round"/>
<path d="M806.07,156.49C806.96,154.83 811.46,154.37 814.86,153.48C818.25,152.59 823.03,150.67 826.42,151.17C829.81,151.67 834.12,153.67 835.2,156.49C836.28,159.3 834.74,165.43 832.89,168.05C831.04,170.67 826.92,172.21 824.1,172.21C821.29,172.21 818.44,169.51 816.01,168.05C813.58,166.58 811.19,165.35 809.54,163.42C807.88,161.5 805.18,158.14 806.07,156.49Z" fill="#5fc04c" stroke="#22a846" stroke-width="2.6" stroke-linejoin="round"/>
<path d="M816.01,156.49C816.97,154.37 823.72,152.63 826.42,153.02C829.11,153.4 831.81,156.49 832.2,158.8C832.58,161.11 830.66,165.73 828.73,166.89C826.8,168.05 822.76,167.47 820.64,165.73C818.52,164 815.05,158.61 816.01,156.49Z" fill="#a8d040" opacity="0.7"/>
<ellipse cx="822.95" cy="150.71" rx="5.09" ry="2.31" fill="#e26420" opacity="0.6"/>
<path d="M838.44,159.26C840.48,157.49 847.3,156.95 851.85,156.95C856.4,156.95 862.72,157.8 865.72,159.26C868.73,160.72 870.66,163.77 869.88,165.73C869.11,167.7 864.49,170.36 861.1,171.05C857.71,171.75 853.12,170.47 849.54,169.9C845.95,169.32 841.45,169.36 839.6,167.58C837.75,165.81 836.4,161.03 838.44,159.26Z" fill="#5fc04c" stroke="#22a846" stroke-width="2.6" stroke-linejoin="round"/>
<ellipse cx="855.32" cy="153.02" rx="9.25" ry="3.7" fill="#6a1414" opacity="0.9"/>
<ellipse cx="861.1" cy="159.95" rx="5.09" ry="3.24" fill="#e26420" opacity="0.45"/>
<path d="M866.18,154.17C866.88,152.79 872.43,150.01 874.97,150.01C877.51,150.01 880.75,152.59 881.45,154.17C882.14,155.75 880.91,158.8 879.13,159.49C877.36,160.18 872.97,159.22 870.81,158.34C868.65,157.45 865.49,155.56 866.18,154.17Z" fill="#30b452" stroke="#1c9a44" stroke-width="1.5" stroke-linejoin="round"/>
<path d="M862.25,142.61C863.03,140.69 870.54,136.06 872.66,135.68C874.78,135.29 875.74,138.37 874.97,140.3C874.2,142.23 870.15,146.85 868.03,147.24C865.92,147.62 861.48,144.54 862.25,142.61Z" fill="#1b8038"/>
<path d="M769.08,184.23C769.85,180.84 769.54,176.91 771.39,173.13C773.24,169.36 777.36,163.88 780.17,161.57C782.99,159.26 786.22,158.37 788.27,159.26C790.31,160.15 792.24,163.5 792.43,166.89C792.62,170.28 790.69,175.95 789.42,179.61C788.15,183.27 786.72,186.62 784.8,188.86C782.87,191.09 779.4,190.78 777.86,193.02C776.32,195.25 776.82,200.92 775.55,202.27C774.28,203.61 771.7,202.57 770.23,201.11C768.77,199.65 766.96,196.29 766.76,193.48C766.57,190.67 768.3,187.62 769.08,184.23Z" fill="#5fc04c" stroke="#22a846" stroke-width="2.6" stroke-linejoin="round"/>
<path d="M789.88,193.48C790.77,190.94 793.35,186.54 796.36,184.69C799.36,182.84 805.11,181.5 807.92,182.38C810.73,183.27 811.58,187.58 813.24,190.01C814.89,192.44 818.36,195.29 817.86,196.95C817.36,198.61 812.27,198.3 810.23,199.95C808.19,201.61 807.92,206.5 805.61,206.89C803.29,207.28 798.79,203.42 796.36,202.27C793.93,201.11 792.12,201.42 791.04,199.95C789.96,198.49 789,196.02 789.88,193.48Z" fill="#30b452" stroke="#1c9a44" stroke-width="1.5" stroke-linejoin="round"/>
<ellipse cx="757.05" cy="163.42" rx="4.16" ry="2.31" fill="#1b8038"/>
<path d="M737.4,193.48C737.78,190.59 740.1,186.54 742.02,185.39C743.95,184.23 747.3,184.81 748.96,186.54C750.62,188.28 752.16,192.71 751.97,195.79C751.77,198.87 749.85,203.88 747.8,205.04C745.76,206.2 741.45,204.66 739.71,202.73C737.98,200.8 737.01,196.37 737.4,193.48Z" fill="#30b452" stroke="#1c9a44" stroke-width="1.5" stroke-linejoin="round"/>
<circle cx="747.8" cy="193.48" r="3.24" fill="#e26420" opacity="0.5"/>
<path d="M868.5,188.86C869,186.31 870.42,180.96 872.66,177.76C874.89,174.56 878.82,170.63 881.91,169.66C884.99,168.7 888.92,169.93 891.16,171.98C893.39,174.02 894.82,178.34 895.32,181.92C895.82,185.5 895.63,190.47 894.16,193.48C892.7,196.49 889.34,199.65 886.53,199.95C883.72,200.26 880.1,196.49 877.28,195.33C874.47,194.17 871.12,194.1 869.65,193.02C868.19,191.94 868,191.4 868.5,188.86Z" fill="#5fc04c" stroke="#22a846" stroke-width="2.6" stroke-linejoin="round"/>
<path d="M852.31,202.73C853.2,200.88 858.36,200.49 861.1,200.88C863.83,201.26 867.26,202.81 868.73,205.04C870.19,207.28 870.77,211.67 869.88,214.29C869,216.91 865.65,218.91 863.41,220.76C861.18,222.61 858.32,225.39 856.47,225.39C854.62,225.39 852.43,223 852.31,220.76C852.2,218.53 855.78,214.98 855.78,211.98C855.78,208.97 851.43,204.58 852.31,202.73Z" fill="#30b452" stroke="#1c9a44" stroke-width="1.5" stroke-linejoin="round"/>
<path d="M822.25,209.66C822.64,207.12 826.96,202.81 828.73,203.19C830.5,203.58 832.39,209.05 832.89,211.98C833.39,214.91 832.81,219.68 831.73,220.76C830.66,221.84 828,220.3 826.42,218.45C824.84,216.6 821.87,212.21 822.25,209.66Z" fill="#30b452" stroke="#1c9a44" stroke-width="1.5" stroke-linejoin="round"/>
<path d="M828.73,186.54C829.42,184.58 832.39,182.84 832.89,184.69C833.39,186.54 832.43,195.68 831.73,197.64C831.04,199.61 829.23,198.34 828.73,196.49C828.23,194.64 828.03,188.51 828.73,186.54Z" fill="#30b452" stroke="#1c9a44" stroke-width="1.5" stroke-linejoin="round"/>
<path d="M837.98,211.98C838.36,210.44 842.99,207.55 844.91,207.35C846.84,207.16 849.92,209.28 849.54,210.82C849.15,212.36 844.53,216.41 842.6,216.6C840.67,216.79 837.59,213.52 837.98,211.98Z" fill="#30b452" stroke="#1c9a44" stroke-width="1.5" stroke-linejoin="round"/>
<path d="M780.64,230.47C781.21,227.28 783.22,224.31 785.26,222.84C787.3,221.38 790.66,220.61 792.89,221.69C795.13,222.77 795.86,227.47 798.67,229.32C801.48,231.17 808.69,230.67 809.77,232.79C810.85,234.91 806.22,239.34 805.14,242.03C804.07,244.73 802.14,247.04 803.29,248.97C804.45,250.9 810.23,251.28 812.08,253.6C813.93,255.91 814.78,260.22 814.39,262.84C814.01,265.46 812,268.05 809.77,269.32C807.53,270.59 803.53,270.67 800.98,270.47C798.44,270.28 795.97,269.82 794.51,268.16C793.04,266.5 793.35,263.34 792.2,260.53C791.04,257.72 789.31,254.37 787.57,251.28C785.84,248.2 782.95,245.5 781.79,242.03C780.64,238.57 780.06,233.67 780.64,230.47Z" fill="#5fc04c" stroke="#22a846" stroke-width="2.6" stroke-linejoin="round"/>
<path d="M843.06,235.1C844.14,233.13 848.07,230.28 851.85,229.78C855.63,229.28 860.79,231.51 865.72,232.09C870.66,232.67 878.82,230.82 881.45,233.25C884.07,235.68 882.91,243.92 881.45,246.66C879.98,249.39 876.05,249.55 872.66,249.66C869.27,249.78 864.57,248.32 861.1,247.35C857.63,246.39 854.47,244.85 851.85,243.88C849.23,242.92 846.84,243.04 845.38,241.57C843.91,240.11 841.98,237.06 843.06,235.1Z" fill="#5fc04c" stroke="#22a846" stroke-width="2.6" stroke-linejoin="round"/>
<path d="M847.69,260.53C848.38,258.37 850.77,255.14 854.16,254.06C857.55,252.98 864.45,252.98 868.03,254.06C871.62,255.14 874.78,258.37 875.66,260.53C876.55,262.69 875.01,265.35 873.35,267.01C871.7,268.66 868.54,270.09 865.72,270.47C862.91,270.86 859.09,269.9 856.47,269.32C853.85,268.74 851.46,268.47 850,267.01C848.54,265.54 846.99,262.69 847.69,260.53Z" fill="#5fc04c" stroke="#22a846" stroke-width="2.6" stroke-linejoin="round"/>
<circle cx="869.19" cy="268.62" r="2.77" fill="#000000" opacity="0.8"/>
<path d="M854.62,283.65C855.32,281.11 858.48,278.26 861.1,277.18C863.72,276.1 868.5,276.1 870.35,277.18C872.2,278.26 872.58,281.3 872.2,283.65C871.81,286 869.69,289.05 868.03,291.28C866.38,293.52 864.1,296.87 862.25,297.06C860.4,297.26 858.21,294.67 856.94,292.44C855.66,290.2 853.93,286.2 854.62,283.65Z" fill="#5fc04c" stroke="#22a846" stroke-width="2.6" stroke-linejoin="round"/>
<path d="M840.75,283.65C841.45,281.88 846.15,278.61 847.23,279.49C848.3,280.38 847.92,287.2 847.23,288.97C846.53,290.74 844.14,291.01 843.06,290.13C841.98,289.24 840.06,285.43 840.75,283.65Z" fill="#30b452" stroke="#1c9a44" stroke-width="1.5" stroke-linejoin="round"/>
<path d="M837.28,313.71C837.59,311.36 842.29,306 844.91,304.92C847.53,303.85 851.08,305.77 853.01,307.24C854.93,308.7 854.35,312.75 856.47,313.71C858.59,314.67 862.72,312.63 865.72,313.02C868.73,313.4 874.12,315.14 874.51,316.02C874.89,316.91 871.81,317.83 868.03,318.34C864.26,318.84 856.01,318.91 851.85,319.03C847.69,319.14 845.49,319.92 843.06,319.03C840.64,318.14 836.97,316.06 837.28,313.71Z" fill="#30b452" stroke="#1c9a44" stroke-width="1.5" stroke-linejoin="round" opacity="0.85"/>
<path d="M881.21,318.34C881.6,316.56 887.07,312.63 888.84,313.02C890.62,313.4 892.24,318.87 891.85,320.65C891.46,322.42 888.3,324.04 886.53,323.65C884.76,323.27 880.83,320.11 881.21,318.34Z" fill="#30b452" stroke="#1c9a44" stroke-width="1.5" stroke-linejoin="round"/>
<path d="M807.23,329.9C807.53,327.55 809.04,321.5 810.23,321.11C811.43,320.72 813.89,325.23 814.39,327.58C814.89,329.93 814.24,333.94 813.24,335.21C812.24,336.49 809.38,336.1 808.38,335.21C807.38,334.33 806.92,332.25 807.23,329.9Z" fill="#30b452" stroke="#1c9a44" stroke-width="1.5" stroke-linejoin="round"/>
<path d="M884.68,210.13C885.57,208.39 889.81,207.89 890.69,209.66C891.58,211.44 890.89,219.03 890,220.76C889.11,222.5 886.26,221.84 885.38,220.07C884.49,218.3 883.8,211.86 884.68,210.13Z" fill="#30b452" stroke="#1c9a44" stroke-width="1.5" stroke-linejoin="round"/>
<path d="M912.43,196.95C912.81,194.64 916.36,193.48 917.75,195.79C919.13,198.1 921.14,208.51 920.75,210.82C920.37,213.13 916.82,211.98 915.43,209.66C914.05,207.35 912.04,199.26 912.43,196.95Z" fill="#30b452" stroke="#1c9a44" stroke-width="1.5" stroke-linejoin="round" opacity="0.8"/>
<ellipse cx="918.44" cy="205.5" rx="2.31" ry="3.24" fill="#e26420" opacity="0.9"/>
<path d="M898.09,243.19C898.48,241.15 902.91,240.3 905.03,240.88C907.15,241.46 910.04,244.54 910.81,246.66C911.58,248.78 911,252.52 909.65,253.6C908.3,254.67 904.64,254.87 902.72,253.13C900.79,251.4 897.71,245.23 898.09,243.19Z" fill="#e26420"/>
<ellipse cx="907.34" cy="230.94" rx="3.7" ry="2.31" fill="#f22428" opacity="0.8"/>
<circle cx="769.77" cy="270.94" r="2.31" fill="#e26420"/>
<circle cx="770.23" cy="270.47" r="1.39" fill="#e6e234"/>
<path d="M764.45,267.47C765.11,265.73 768,264.39 769.77,265.16C771.54,265.93 774.89,269.78 775.09,272.09C775.28,274.4 772.47,278.45 770.92,279.03C769.38,279.61 766.92,277.49 765.84,275.56C764.76,273.63 763.8,269.2 764.45,267.47Z" fill="#1b8038" opacity="0.8"/>
<circle cx="745.49" cy="213.13" r="1.39" fill="#f22428"/>
<circle cx="759.36" cy="220.07" r="1.39" fill="#f22428"/>
<circle cx="744.34" cy="225.85" r="1.39" fill="#b81c1e"/>
<ellipse cx="755.9" cy="252.44" rx="3.24" ry="2.31" fill="#1b8038"/>
<circle cx="763.99" cy="255.91" r="2.31" fill="#6a1414"/>
<circle cx="895.78" cy="262.84" r="2.31" fill="#6a1414"/>
<circle cx="895.78" cy="274.4" r="2.31" fill="#6a1414"/>
<circle cx="787.11" cy="298.68" r="2.31" fill="#6a1414"/>
<ellipse cx="870.35" cy="326.43" rx="2.31" ry="1.39" fill="#1b8038"/>
<path d="M765.14,156.49C765.53,158.03 766.3,162.65 767.46,165.73C768.61,168.82 771.31,173.44 772.08,174.98" fill="none" stroke="#30b452" stroke-width="3.24" stroke-linecap="round" stroke-linejoin="round" opacity="0.85"/>
<path d="M784.8,190.01C785.95,190.59 790.58,192.9 791.73,193.48" fill="none" stroke="#30b452" stroke-width="3.7" stroke-linecap="round" stroke-linejoin="round" opacity="0.85"/>
<path d="M832.2,163.42C833.55,163.42 838.94,163.42 840.29,163.42" fill="none" stroke="#30b452" stroke-width="4.16" stroke-linecap="round" stroke-linejoin="round" opacity="0.85"/>
<path d="M880.75,154.64C883.06,154.64 892.31,154.64 894.62,154.64" fill="none" stroke="#30b452" stroke-width="3.24" stroke-linecap="round" stroke-linejoin="round" opacity="0.85"/>
<path d="M874.97,196.95C873.62,198.1 868.23,202.73 866.88,203.88" fill="none" stroke="#30b452" stroke-width="3.7" stroke-linecap="round" stroke-linejoin="round" opacity="0.85"/>
<path d="M859.94,223.54C860.13,224.89 860.91,230.28 861.1,231.63" fill="none" stroke="#30b452" stroke-width="4.16" stroke-linecap="round" stroke-linejoin="round" opacity="0.85"/>
<path d="M862.25,248.97C862.25,249.93 862.25,253.79 862.25,254.75" fill="none" stroke="#30b452" stroke-width="4.16" stroke-linecap="round" stroke-linejoin="round" opacity="0.85"/>
<path d="M862.95,269.78C863.1,271.13 863.72,276.52 863.87,277.87" fill="none" stroke="#30b452" stroke-width="3.7" stroke-linecap="round" stroke-linejoin="round" opacity="0.85"/>
<path d="M810.23,202.73C812.54,204.27 821.79,210.44 824.1,211.98" fill="none" stroke="#30b452" stroke-width="2.77" stroke-linecap="round" stroke-linejoin="round" opacity="0.85"/>
<path d="M789.42,202.73C789.04,206.2 787.5,220.07 787.11,223.54" fill="none" stroke="#30b452" stroke-width="2.31" stroke-linecap="round" stroke-linejoin="round" opacity="0.85"/>
<path d="M899.25,148.39C899.06,149.36 898.29,153.21 898.09,154.17" fill="none" stroke="#30b452" stroke-width="4.62" stroke-linecap="round" stroke-linejoin="round" opacity="0.85"/>
<path d="M849.54,118.34C849.92,120.84 852.24,128.55 851.85,133.36C851.46,138.18 847.23,143.19 847.23,147.24C847.23,151.28 851.08,155.91 851.85,157.64" fill="none" stroke="#30b452" stroke-width="1.85" stroke-linecap="round" stroke-linejoin="round" opacity="0.85"/>
<path d="M879.6,159.95C879.98,161.69 881.52,168.62 881.91,170.36" fill="none" stroke="#30b452" stroke-width="3.24" stroke-linecap="round" stroke-linejoin="round" opacity="0.85"/>
<path d="M851.85,295.21C851.46,296.95 849.92,303.88 849.54,305.62" fill="none" stroke="#30b452" stroke-width="2.77" stroke-linecap="round" stroke-linejoin="round" opacity="0.85"/>
<path d="M819.48,172.67C819.87,174.6 820.25,181.53 821.79,184.23C823.33,186.93 827.57,188.08 828.73,188.86" fill="none" stroke="#30b452" stroke-width="2.31" stroke-linecap="round" stroke-linejoin="round" opacity="0.85"/>
<path d="M791.73,165.73C794.05,165.35 803.29,163.81 805.61,163.42" fill="none" stroke="#30b452" stroke-width="2.77" stroke-linecap="round" stroke-linejoin="round" opacity="0.85"/>
<path d="M769.77,202.73C770.35,205.04 771.12,213.13 773.24,216.6C775.36,220.07 780.94,222.38 782.49,223.54" fill="none" stroke="#30b452" stroke-width="1.85" stroke-linecap="round" stroke-linejoin="round" opacity="0.85"/>
<path d="M893.47,193.48C895.39,195.02 901.95,201.96 905.03,202.73C908.11,203.5 910.81,198.87 911.97,198.1" fill="none" stroke="#30b452" stroke-width="1.85" stroke-linecap="round" stroke-linejoin="round" opacity="0.85"/></g></g>
<g clip-path="url(#cp4)"><g filter="url(#fhp4)"><path d="M1035.55,172.67C1036.98,167.66 1038.64,161.96 1041.34,158.8C1044.03,155.64 1048.08,154.1 1051.74,153.71C1055.4,153.33 1060.53,154.1 1063.3,156.49C1066.08,158.87 1068.08,164 1068.39,168.05C1068.7,172.09 1066.58,177.1 1065.15,180.76C1063.72,184.42 1060.14,186.74 1059.83,190.01C1059.52,193.29 1061.37,196.76 1063.3,200.42C1065.23,204.08 1067.15,212.17 1071.39,211.98C1075.63,211.78 1083.53,200.8 1088.73,199.26C1093.94,197.72 1099.14,200.61 1102.61,202.73C1106.08,204.85 1108.58,205.81 1109.54,211.98C1110.51,218.14 1109.74,233.56 1108.39,239.72C1107.04,245.89 1102.41,244.35 1101.45,248.97C1100.49,253.6 1103.57,263.23 1102.61,267.47C1101.64,271.71 1098.37,273.06 1095.67,274.4C1092.97,275.75 1088.73,272.09 1086.42,275.56C1084.11,279.03 1083.34,290.01 1081.8,295.21C1080.26,300.42 1080.26,304.46 1077.17,306.77C1074.09,309.09 1067.92,309.47 1063.3,309.09C1058.68,308.7 1052.9,306.77 1049.43,304.46C1045.96,302.15 1042.8,298.68 1042.49,295.21C1042.18,291.75 1046.04,288.28 1047.58,283.65C1049.12,279.03 1051.24,272.48 1051.74,267.47C1052.24,262.46 1051.93,257.64 1050.58,253.6C1049.24,249.55 1046.34,246.47 1043.65,243.19C1040.95,239.92 1037.1,236.83 1034.4,233.94C1031.7,231.05 1027.85,228.55 1027.46,225.85C1027.08,223.15 1030.28,220.07 1032.09,217.76C1033.9,215.45 1037.83,214.87 1038.33,211.98C1038.83,209.09 1036.02,204.27 1035.09,200.42C1034.17,196.56 1032.7,193.48 1032.78,188.86C1032.86,184.23 1034.13,177.68 1035.55,172.67Z" fill="#1b8038"/>
<path d="M1156.94,221.23C1157.91,217.56 1162.72,213.71 1166.19,210.82C1169.66,207.93 1174.28,205.81 1177.75,203.88C1181.22,201.96 1185.19,201.76 1187,199.26C1188.81,196.76 1188.73,192.13 1188.62,188.86C1188.5,185.58 1185.42,182.5 1186.31,179.61C1187.19,176.72 1191.7,174.02 1193.94,171.51C1196.17,169.01 1197.6,167.08 1199.72,164.58C1201.84,162.07 1205.88,158.8 1206.65,156.49C1207.42,154.17 1206.46,152.44 1204.34,150.71C1202.22,148.97 1196.83,146.47 1193.94,146.08C1191.05,145.7 1188.35,148.78 1187,148.39C1185.65,148.01 1184.11,144.81 1185.84,143.77C1187.58,142.73 1193.36,141.38 1197.4,142.15C1201.45,142.92 1207.62,145.62 1210.12,148.39C1212.63,151.17 1213.01,155.91 1212.43,158.8C1211.86,161.69 1208.39,163.42 1206.65,165.73C1204.92,168.05 1202.41,170.36 1202.03,172.67C1201.64,174.98 1204.15,176.14 1204.34,179.61C1204.53,183.08 1202.88,188.86 1203.18,193.48C1203.49,198.1 1205.42,203.31 1206.19,207.35C1206.96,211.4 1205.81,214.67 1207.81,217.76C1209.81,220.84 1216.02,222.19 1218.21,225.85C1220.41,229.51 1221.18,235.48 1220.99,239.72C1220.8,243.96 1217.13,247.04 1217.06,251.28C1216.98,255.52 1221.49,261.5 1220.53,265.16C1219.56,268.82 1213.59,269.78 1211.28,273.25C1208.97,276.72 1207.62,281.53 1206.65,285.97C1205.69,290.4 1206.34,295.79 1205.5,299.84C1204.65,303.88 1203.69,306.97 1201.57,310.24C1199.45,313.52 1195.59,319.11 1192.78,319.49C1189.97,319.88 1187.58,315.64 1184.69,312.55C1181.8,309.47 1178.14,304.46 1175.44,300.99C1172.74,297.53 1171.01,295.02 1168.5,291.75C1166,288.47 1160.99,285 1160.41,281.34C1159.83,277.68 1163.49,273.25 1165.03,269.78C1166.58,266.31 1170.04,263.23 1169.66,260.53C1169.27,257.83 1164.65,256.29 1162.72,253.6C1160.8,250.9 1158.48,247.82 1158.1,244.35C1157.71,240.88 1160.6,236.64 1160.41,232.79C1160.22,228.93 1155.98,224.89 1156.94,221.23Z" fill="#1b8038"/>
<ellipse cx="1215.9" cy="72.09" rx="6.94" ry="4.62" fill="#3a0c0c"/>
<ellipse cx="1240.87" cy="95.91" rx="2.77" ry="5.55" fill="#0f4a22"/></g><g filter="url(#frp4)"><path d="M1037.4,172.67C1038.6,168.12 1039.83,164.35 1042.03,161.57C1044.23,158.8 1047.42,156.56 1050.58,156.02C1053.74,155.48 1058.37,156.33 1060.99,158.34C1063.61,160.34 1066,164.5 1066.31,168.05C1066.61,171.59 1064.38,176.14 1062.84,179.61C1061.3,183.08 1057.44,185.39 1057.06,188.86C1056.67,192.32 1058.41,196.25 1060.53,200.42C1062.65,204.58 1066.61,212.67 1069.77,213.83C1072.93,214.98 1076.33,209.32 1079.49,207.35C1082.65,205.39 1085.34,202.54 1088.73,202.03C1092.13,201.53 1096.83,202.69 1099.83,204.35C1102.84,206 1105.81,208.39 1106.77,211.98C1107.73,215.56 1105.61,221.61 1105.61,225.85C1105.61,230.09 1107.73,233.94 1106.77,237.41C1105.81,240.88 1101.37,243.58 1099.83,246.66C1098.29,249.74 1097.33,252.9 1097.52,255.91C1097.71,258.91 1101.37,262.07 1100.99,264.69C1100.6,267.31 1097.64,270.28 1095.21,271.63C1092.78,272.98 1089.04,271.24 1086.42,272.79C1083.8,274.33 1080.64,277.14 1079.49,280.88C1078.33,284.62 1080.14,291.36 1079.49,295.21C1078.83,299.07 1078.25,302.15 1075.55,304C1072.86,305.85 1067.19,306.5 1063.3,306.31C1059.41,306.12 1055.21,304.69 1052.2,302.84C1049.2,300.99 1045.65,298.41 1045.27,295.21C1044.88,292.02 1048.35,288.28 1049.89,283.65C1051.43,279.03 1053.94,272.48 1054.51,267.47C1055.09,262.46 1054.71,257.83 1053.36,253.6C1052.01,249.36 1049.12,245.5 1046.42,242.03C1043.72,238.57 1039.76,235.48 1037.17,232.79C1034.59,230.09 1031.47,228.08 1030.93,225.85C1030.39,223.61 1032.32,221.61 1033.94,219.38C1035.55,217.14 1040.1,215.6 1040.64,212.44C1041.18,209.28 1038.14,204.35 1037.17,200.42C1036.21,196.49 1034.82,193.48 1034.86,188.86C1034.9,184.23 1036.21,177.22 1037.4,172.67Z" fill="#30b452" stroke="#1c9a44" stroke-width="1.5" stroke-linejoin="round"/>
<path d="M1047.58,230.47C1047.96,225.54 1051.82,221.5 1055.21,219.38C1058.6,217.26 1064.19,217.06 1067.92,217.76C1071.66,218.45 1075.25,220.26 1077.64,223.54C1080.03,226.81 1079.83,233.94 1082.26,237.41C1084.69,240.88 1089.66,241.26 1092.2,244.35C1094.75,247.43 1097.71,252.13 1097.52,255.91C1097.33,259.68 1094.05,264.39 1091.05,267.01C1088.04,269.63 1082.57,269.32 1079.49,271.63C1076.4,273.94 1073.9,276.95 1072.55,280.88C1071.2,284.81 1072.93,291.67 1071.39,295.21C1069.85,298.76 1066.38,301.57 1063.3,302.15C1060.22,302.73 1054.44,302.15 1052.9,298.68C1051.35,295.21 1053.28,286.93 1054.05,281.34C1054.82,275.75 1057.71,270.55 1057.52,265.16C1057.33,259.76 1054.55,254.75 1052.9,248.97C1051.24,243.19 1047.19,235.41 1047.58,230.47Z" fill="#5fc04c" stroke="#22a846" stroke-width="2.6" stroke-linejoin="round"/>
<path d="M1042.49,174.98C1043.8,171.51 1045.27,167.66 1047.58,165.73C1049.89,163.81 1054.21,162.46 1056.36,163.42C1058.52,164.39 1060.53,168.43 1060.53,171.51C1060.53,174.6 1057.83,178.26 1056.36,181.92C1054.9,185.58 1051.74,189.24 1051.74,193.48C1051.74,197.72 1054.44,203.11 1056.36,207.35C1058.29,211.59 1063.69,216.6 1063.3,218.91C1062.92,221.23 1056.94,222.38 1054.05,221.23C1051.16,220.07 1047.89,215.45 1045.96,211.98C1044.03,208.51 1043.53,204.66 1042.49,200.42C1041.45,196.18 1039.72,190.78 1039.72,186.54C1039.72,182.3 1041.18,178.45 1042.49,174.98Z" fill="#5fc04c" stroke="#22a846" stroke-width="2.6" stroke-linejoin="round" opacity="0.55"/>
<ellipse cx="1084.57" cy="228.62" rx="3.01" ry="6.47" fill="#000000"/>
<ellipse cx="1088.73" cy="274.4" rx="5.09" ry="3.24" fill="#000000" opacity="0.9"/>
<ellipse cx="1092.2" cy="210.82" rx="5.09" ry="3.24" fill="#0f4a22" opacity="0.8"/>
<circle cx="1101.45" cy="206.89" r="1.62" fill="#e26420"/>
<path d="M1159.72,221.69C1160.41,218.3 1164.15,215.14 1167.35,212.44C1170.55,209.74 1175.52,207.43 1178.91,205.5C1182.3,203.58 1185.84,203.46 1187.69,200.88C1189.54,198.3 1189.93,193.48 1190.01,190.01C1190.08,186.54 1187.39,182.88 1188.16,180.07C1188.93,177.26 1192.63,175.45 1194.63,173.13C1196.63,170.82 1198.18,168.89 1200.18,166.2C1202.18,163.5 1205.96,159.41 1206.65,156.95C1207.35,154.48 1206.27,153.02 1204.34,151.4C1202.41,149.78 1197.67,147.62 1195.09,147.24C1192.51,146.85 1189.31,148.2 1188.85,149.09C1188.39,149.97 1190.2,151.71 1192.32,152.55C1194.44,153.4 1199.87,152.75 1201.57,154.17C1203.26,155.6 1203.26,158.41 1202.49,161.11C1201.72,163.81 1197.33,167.28 1196.94,170.36C1196.56,173.44 1199.79,175.75 1200.18,179.61C1200.56,183.46 1198.87,188.86 1199.25,193.48C1199.64,198.1 1201.72,203.19 1202.49,207.35C1203.26,211.51 1201.84,215.37 1203.88,218.45C1205.92,221.53 1212.55,222.3 1214.75,225.85C1216.94,229.39 1217.25,235.48 1217.06,239.72C1216.87,243.96 1213.59,247.12 1213.59,251.28C1213.59,255.45 1217.91,261.3 1217.06,264.69C1216.21,268.08 1210.7,268.16 1208.5,271.63C1206.31,275.1 1204.84,280.88 1203.88,285.5C1202.92,290.13 1203.49,295.52 1202.72,299.38C1201.95,303.23 1200.91,305.85 1199.25,308.62C1197.6,311.4 1194.94,315.64 1192.78,316.02C1190.62,316.41 1188.93,313.71 1186.31,310.94C1183.69,308.16 1179.76,302.84 1177.06,299.38C1174.36,295.91 1172.43,293.21 1170.12,290.13C1167.81,287.04 1163.57,284.27 1163.18,280.88C1162.8,277.49 1166.27,273.17 1167.81,269.78C1169.35,266.39 1172.82,263.23 1172.43,260.53C1172.05,257.83 1167.42,256.29 1165.5,253.6C1163.57,250.9 1161.26,247.82 1160.87,244.35C1160.49,240.88 1163.38,236.56 1163.18,232.79C1162.99,229.01 1159.02,225.08 1159.72,221.69Z" fill="#30b452" stroke="#1c9a44" stroke-width="1.5" stroke-linejoin="round"/>
<path d="M1167.81,225.85C1170.01,222.19 1173.97,218.14 1177.75,215.45C1181.53,212.75 1186.42,208.89 1190.47,209.66C1194.51,210.44 1199.41,215.83 1202.03,220.07C1204.65,224.31 1205.61,230.09 1206.19,235.1C1206.77,240.11 1207.15,246.66 1205.5,250.13C1203.84,253.6 1199.91,255.41 1196.25,255.91C1192.59,256.41 1187.77,254.48 1183.53,253.13C1179.29,251.78 1173.97,250.44 1170.82,247.82C1167.66,245.19 1165.07,241.07 1164.57,237.41C1164.07,233.75 1165.61,229.51 1167.81,225.85Z" fill="#5fc04c" stroke="#22a846" stroke-width="2.6" stroke-linejoin="round" opacity="0.9"/>
<path d="M1170.82,270.94C1172.74,268.16 1179.29,267.2 1183.53,267.01C1187.77,266.81 1193.74,267.01 1196.25,269.78C1198.75,272.55 1199.14,279.41 1198.56,283.65C1197.98,287.89 1194.9,291.75 1192.78,295.21C1190.66,298.68 1188.16,305.04 1185.84,304.46C1183.53,303.88 1181.22,295.21 1178.91,291.75C1176.6,288.28 1173.32,287.12 1171.97,283.65C1170.62,280.18 1168.89,273.71 1170.82,270.94Z" fill="#5fc04c" stroke="#22a846" stroke-width="2.6" stroke-linejoin="round" opacity="0.9"/>
<path d="M1173.13,257.76C1173.82,256.68 1175.71,255.14 1178.91,255.91C1182.11,256.68 1190.01,260.53 1192.32,262.38C1194.63,264.23 1193.86,266.16 1192.78,267.01C1191.7,267.85 1188.85,268.24 1185.84,267.47C1182.84,266.7 1176.87,264 1174.75,262.38C1172.63,260.76 1172.43,258.84 1173.13,257.76Z" fill="#000000"/>
<ellipse cx="1185.84" cy="294.06" rx="3.47" ry="2.31" fill="#000000" opacity="0.9"/>
<path d="M1188.62,146.08C1189.39,144.73 1193.24,143.19 1196.25,143.77C1199.25,144.35 1204.53,147.24 1206.65,149.55C1208.77,151.86 1209.35,154.94 1208.97,157.64C1208.58,160.34 1205.69,164.77 1204.34,165.73C1202.99,166.7 1201.07,165.16 1200.87,163.42C1200.68,161.69 1203.57,157.33 1203.18,155.33C1202.8,153.33 1200.49,151.98 1198.56,151.4C1196.63,150.82 1193.28,152.75 1191.62,151.86C1189.97,150.97 1187.85,147.43 1188.62,146.08Z" fill="#1b8038"/>
<path d="M1140.06,130.36C1141.34,129.55 1146.88,129.97 1148.85,128.05C1150.82,126.12 1152.24,122.27 1151.86,118.8C1151.47,115.33 1146.27,108.47 1146.54,107.24C1146.81,106 1151.43,109.16 1153.47,111.4C1155.52,113.63 1158.29,117.56 1158.79,120.65C1159.29,123.73 1158.14,127.66 1156.48,129.9C1154.82,132.13 1151.39,133.56 1148.85,134.06C1146.31,134.56 1142.68,133.52 1141.22,132.9C1139.76,132.29 1138.79,131.17 1140.06,130.36Z" fill="#f22428" stroke="#c01c20" stroke-width="1.5" stroke-linejoin="round" opacity="0.9"/>
<path d="M1151.62,163.88C1152.51,162.5 1155.86,160.8 1158.1,160.42C1160.33,160.03 1162.8,160.49 1165.03,161.57C1167.27,162.65 1170.82,165.31 1171.51,166.89C1172.2,168.47 1171.43,170.55 1169.2,171.05C1166.96,171.55 1160.83,170.28 1158.1,169.9C1155.36,169.51 1153.86,169.74 1152.78,168.74C1151.7,167.74 1150.74,165.27 1151.62,163.88Z" fill="#f22428" stroke="#c01c20" stroke-width="1.5" stroke-linejoin="round"/>
<path d="M1126.19,93.6C1126.58,92.44 1130.04,92.05 1131.51,92.9C1132.97,93.75 1135.36,97.53 1134.98,98.68C1134.59,99.84 1130.66,100.69 1129.2,99.84C1127.73,98.99 1125.81,94.75 1126.19,93.6Z" fill="#b81c1e"/>
<ellipse cx="1148.85" cy="156.02" rx="2.08" ry="1.39" fill="#b81c1e"/>
<ellipse cx="1104.92" cy="151.4" rx="2.08" ry="1.39" fill="#b81c1e"/>
<circle cx="1092.66" cy="125.97" r="1.85" fill="#6a1414"/>
<circle cx="1091.51" cy="138.45" r="2.77" fill="#6a1414" opacity="0.9"/>
<circle cx="1107.23" cy="166.2" r="2.08" fill="#6a1414"/>
<ellipse cx="1131.51" cy="112.09" rx="1.39" ry="2.31" fill="#b81c1e" opacity="0.8"/>
<ellipse cx="1085.27" cy="158.1" rx="3.24" ry="2.77" fill="#30b452"/>
<ellipse cx="1166.19" cy="155.33" rx="1.16" ry="3.24" fill="#b81c1e" opacity="0.8"/>
<path d="M1232.55,64.46C1234.32,64.15 1241.41,64.15 1243.18,64.46C1244.96,64.77 1244.96,66 1243.18,66.31C1241.41,66.62 1234.32,66.62 1232.55,66.31C1230.78,66 1230.78,64.77 1232.55,64.46Z" fill="#1b8038"/>
<circle cx="1116.48" cy="209.66" r="0.92" fill="#b81c1e"/></g></g>
<g clip-path="url(#cp5)"><g filter="url(#fhp5)"><path d="M96.52,480.24C98.41,476.45 103.78,476.77 105.99,478.35C108.2,479.93 109.78,485.92 109.78,489.71C109.78,493.5 107.57,497.29 105.99,501.08C104.41,504.87 102.2,508.02 100.31,512.44C98.41,516.86 96.2,526.65 94.63,527.6C93.05,528.54 90.84,522.55 90.84,518.13C90.84,513.71 93.68,507.39 94.63,501.08C95.57,494.76 94.63,484.03 96.52,480.24Z" fill="#1b8038" opacity="0.9"/>
<path d="M215.86,470.77C216.8,467.45 221.85,466.35 225.33,466.03C228.8,465.72 233.69,466.51 236.69,468.88C239.69,471.24 242.69,476.14 243.32,480.24C243.95,484.34 241.59,488.76 240.48,493.5C239.38,498.24 238.27,504.23 236.69,508.65C235.11,513.07 233.54,518.76 231.01,520.02C228.48,521.28 223.75,519.39 221.54,516.23C219.33,513.07 218.07,506.13 217.75,501.08C217.43,496.03 219.96,490.97 219.64,485.92C219.33,480.87 214.91,474.08 215.86,470.77Z" fill="#1b8038" opacity="0.6"/>
<path d="M259.42,493.5C261.95,491.29 274.89,494.13 278.37,497.29C281.84,500.45 282.79,510.23 280.26,512.44C277.73,514.65 266.69,513.71 263.21,510.55C259.74,507.39 256.9,495.71 259.42,493.5Z" fill="#0f4a22"/>
<path d="M141.98,442.36C143.56,439.51 155.87,437.94 159.03,440.46C162.19,442.99 162.5,454.67 160.92,457.51C159.34,460.35 152.72,460.04 149.56,457.51C146.4,454.98 140.4,445.2 141.98,442.36Z" fill="#0f4a22"/>
<path d="M234.8,549.63C238.27,546.47 246.16,543.94 251.85,543.94C257.53,543.94 265.74,544.57 268.9,549.63C272.05,554.68 271.74,567.94 270.79,574.25C269.84,580.56 266.37,583.72 263.21,587.51C260.06,591.3 255.64,594.77 251.85,596.98C248.06,599.19 243.64,601.4 240.48,600.77C237.32,600.14 233.54,596.98 232.9,593.19C232.27,589.4 237.01,583.09 236.69,578.04C236.38,572.99 231.33,567.62 231.01,562.88C230.69,558.15 231.33,552.78 234.8,549.63Z" fill="#1b8038" opacity="0.8"/>
<path d="M88.94,572.36C91.47,568.57 104.1,568.25 107.88,570.46C111.67,572.67 112.3,580.88 111.67,585.62C111.04,590.35 107.25,597.61 104.1,598.88C100.94,600.14 95.26,597.61 92.73,593.19C90.21,588.77 86.42,576.14 88.94,572.36Z" fill="#0f4a22"/>
<path d="M284.05,581.83C284.84,579.62 289.42,578.67 290.68,579.93C291.94,581.2 292.42,587.19 291.63,589.4C290.84,591.61 287.21,594.46 285.94,593.19C284.68,591.93 283.26,584.04 284.05,581.83Z" fill="#3a0c0c"/></g><g filter="url(#frp5)"><path d="M170.39,410.15C172.29,408.42 180.18,408.26 183.65,409.21C187.13,410.15 189.65,413.47 191.23,415.84C192.81,418.2 191.23,422.78 193.13,423.41C195.02,424.04 199.76,419.63 202.6,419.63C205.44,419.63 209.54,421.84 210.17,423.41C210.81,424.99 207.96,427.52 206.39,429.1C204.81,430.67 200.07,430.99 200.7,432.88C201.33,434.78 207.65,437.94 210.17,440.46C212.7,442.99 215.22,444.88 215.86,448.04C216.49,451.2 215.22,456.25 213.96,459.4C212.7,462.56 210.17,464.46 208.28,466.98C206.39,469.51 204.18,471.72 202.6,474.56C201.02,477.4 200.39,481.5 198.81,484.03C197.23,486.55 195.34,489.08 193.13,489.71C190.92,490.34 187.76,489.4 185.55,487.82C183.34,486.24 181.44,482.45 179.87,480.24C178.29,478.03 177.18,476.77 176.08,474.56C174.97,472.35 173.24,469.51 173.24,466.98C173.24,464.46 174.34,460.98 176.08,459.4C177.81,457.83 181.13,458.77 183.65,457.51C186.18,456.25 189.65,454.04 191.23,451.83C192.81,449.62 193.76,446.14 193.13,444.25C192.49,442.36 189.02,439.51 187.44,440.46C185.86,441.41 185.55,448.04 183.65,449.93C181.76,451.83 178.29,452.46 176.08,451.83C173.87,451.2 171.66,448.67 170.39,446.14C169.13,443.62 170.08,438.88 168.5,436.67C166.92,434.46 163.45,433.83 160.92,432.88C158.4,431.94 154.29,432.25 153.35,430.99C152.4,429.73 153.66,426.57 155.24,425.31C156.82,424.04 160.61,423.1 162.82,423.41C165.03,423.73 166.92,427.83 168.5,427.2C170.08,426.57 171.97,422.47 172.29,419.63C172.6,416.78 168.5,411.89 170.39,410.15Z" fill="#30b452" stroke="#1c9a44" stroke-width="1.5" stroke-linejoin="round"/>
<path d="M173.24,414.89C175.32,412.93 181.22,412.46 183.65,413.56C186.09,414.67 187.25,418.3 187.82,421.52C188.39,424.74 187.82,429.25 187.06,432.88C186.31,436.52 185.04,441.25 183.28,443.3C181.51,445.36 178.35,445.99 176.46,445.2C174.56,444.41 172.79,441.88 171.91,438.57C171.03,435.25 170.93,429.25 171.15,425.31C171.37,421.36 171.15,416.85 173.24,414.89Z" fill="#5fc04c" stroke="#22a846" stroke-width="2.6" stroke-linejoin="round" opacity="0.9"/>
<path d="M194.07,441.41C195.9,439.61 203.45,438.66 206.39,440.08C209.32,441.5 211.12,446.71 211.69,449.93C212.26,453.15 211.31,455.93 209.79,459.4C208.28,462.88 204.74,467.04 202.6,470.77C200.45,474.49 199.28,479.61 196.91,481.76C194.55,483.9 190.76,484.53 188.39,483.65C186.02,482.77 183.34,479.07 182.71,476.45C182.08,473.83 183.12,470.61 184.6,467.93C186.09,465.24 189.81,463.19 191.61,460.35C193.41,457.51 194.99,454.04 195.4,450.88C195.81,447.72 192.24,443.21 194.07,441.41Z" fill="#5fc04c" stroke="#22a846" stroke-width="2.6" stroke-linejoin="round" opacity="0.9"/>
<ellipse cx="178.92" cy="435.73" rx="2.46" ry="3.03" fill="#30b452"/>
<ellipse cx="185.93" cy="452.77" rx="2.65" ry="4.17" fill="#000000"/>
<circle cx="177.02" cy="469.82" r="2.65" fill="#1b8038" opacity="0.9"/>
<path d="M109.78,451.83C110.57,449.3 112.94,445.83 115.46,444.25C117.99,442.67 122.09,441.41 124.93,442.36C127.77,443.3 131.88,447.41 132.51,449.93C133.14,452.46 130.93,455.62 128.72,457.51C126.51,459.4 122.25,460.98 119.25,461.3C116.25,461.61 112.3,460.98 110.73,459.4C109.15,457.83 108.99,454.35 109.78,451.83Z" fill="#30b452" stroke="#1c9a44" stroke-width="1.5" stroke-linejoin="round"/>
<path d="M126.83,430.04C127.62,428.46 130.93,426.25 132.51,426.25C134.09,426.25 136.14,428.31 136.3,430.04C136.46,431.78 134.88,435.73 133.46,436.67C132.04,437.62 128.88,436.83 127.77,435.73C126.67,434.62 126.04,431.62 126.83,430.04Z" fill="#30b452" stroke="#1c9a44" stroke-width="1.5" stroke-linejoin="round" opacity="0.9"/>
<circle cx="154.29" cy="448.99" r="3.03" fill="#1b8038"/>
<path d="M126.83,470.77C127.93,467.93 129.67,463.51 132.51,461.3C135.35,459.09 140.4,457.51 143.88,457.51C147.35,457.51 151.45,459.09 153.35,461.3C155.24,463.51 155.56,467.93 155.24,470.77C154.93,473.61 153.66,476.14 151.45,478.35C149.24,480.56 145.45,483.08 141.98,484.03C138.51,484.98 133.3,484.98 130.62,484.03C127.93,483.08 126.51,480.56 125.88,478.35C125.25,476.14 125.72,473.61 126.83,470.77Z" fill="#30b452" stroke="#1c9a44" stroke-width="1.5" stroke-linejoin="round"/>
<ellipse cx="137.25" cy="471.72" rx="4.93" ry="7.2" fill="#000000"/>
<path d="M153.35,461.3C153.98,460.04 159.98,459.09 162.82,459.4C165.66,459.72 169.45,461.61 170.39,463.19C171.34,464.77 170.39,468.24 168.5,468.88C166.61,469.51 161.55,468.24 159.03,466.98C156.5,465.72 152.72,462.56 153.35,461.3Z" fill="#30b452" stroke="#1c9a44" stroke-width="1.5" stroke-linejoin="round" opacity="0.9"/>
<path d="M141.98,512.44C143.56,509.92 146.72,507.39 149.56,504.87C152.4,502.34 155.56,499.18 159.03,497.29C162.5,495.39 167.55,493.18 170.39,493.5C173.24,493.82 173.87,499.18 176.08,499.18C178.29,499.18 181.13,494.45 183.65,493.5C186.18,492.55 189.97,492.24 191.23,493.5C192.49,494.76 192.49,498.55 191.23,501.08C189.97,503.6 185.23,505.81 183.65,508.65C182.08,511.5 181.76,514.97 181.76,518.13C181.76,521.28 183.65,524.12 183.65,527.6C183.65,531.07 183.65,537.07 181.76,538.96C179.87,540.86 174.5,540.86 172.29,538.96C170.08,537.07 170.39,528.86 168.5,527.6C166.61,526.33 163.76,530.15 160.92,531.39C158.08,532.62 154.29,535.62 151.45,534.98C148.61,534.35 145.77,530.09 143.88,527.6C141.98,525.1 140.4,522.55 140.09,520.02C139.77,517.49 140.4,514.97 141.98,512.44Z" fill="#30b452" stroke="#1c9a44" stroke-width="1.5" stroke-linejoin="round"/>
<path d="M150.51,508.65C151.93,505.09 155.71,503.29 159.03,501.46C162.34,499.63 168.18,497.1 170.39,497.67C172.6,498.24 173.24,502.4 172.29,504.87C171.34,507.33 167.17,509.92 164.71,512.44C162.25,514.97 159.88,518.28 157.51,520.02C155.15,521.76 151.67,524.76 150.51,522.86C149.34,520.97 149.08,512.22 150.51,508.65Z" fill="#5fc04c" stroke="#22a846" stroke-width="2.6" stroke-linejoin="round" opacity="0.85"/>
<circle cx="151.45" cy="517.75" r="3.41" fill="#000000"/>
<ellipse cx="167.55" cy="523.81" rx="3.03" ry="7.58" fill="#000000"/>
<path d="M193.13,501.08C194.07,498.55 199.44,495.39 202.6,493.5C205.75,491.61 209.86,489.08 212.07,489.71C214.28,490.34 215.54,494.45 215.86,497.29C216.17,500.13 213.33,503.92 213.96,506.76C214.59,509.6 217.12,511.5 219.64,514.34C222.17,517.18 225.64,521.91 229.12,523.81C232.59,525.7 237.64,524.44 240.48,525.7C243.32,526.97 245.06,528.86 246.16,531.39C247.27,533.91 248.06,538.33 247.11,540.86C246.16,543.38 244.74,546.22 240.48,546.54C236.22,546.85 227.22,544.01 221.54,542.75C215.86,541.49 208.28,542.12 206.39,538.96C204.49,535.81 210.81,527.6 210.17,523.81C209.54,520.02 204.81,518.76 202.6,516.23C200.39,513.71 198.49,511.18 196.91,508.65C195.34,506.13 192.18,503.6 193.13,501.08Z" fill="#30b452" stroke="#1c9a44" stroke-width="1.5" stroke-linejoin="round"/>
<path d="M201.08,501.46C201.97,498.05 208.09,495.21 210.17,495.77C212.26,496.34 212,501.46 213.58,504.87C215.16,508.28 217.06,512.76 219.64,516.23C222.23,519.7 225.64,523.75 229.12,525.7C232.59,527.66 238.02,526.4 240.48,527.98C242.94,529.55 245.15,533.34 243.89,535.17C242.63,537 236.95,538.96 232.9,538.96C228.86,538.96 223.37,537.38 219.64,535.17C215.92,532.96 213.01,528.86 210.55,525.7C208.09,522.55 206.45,520.27 204.87,516.23C203.29,512.19 200.2,504.87 201.08,501.46Z" fill="#5fc04c" stroke="#22a846" stroke-width="2.6" stroke-linejoin="round" opacity="0.9"/>
<ellipse cx="193.13" cy="521.91" rx="4.93" ry="11.37" fill="#000000"/>
<path d="M219.64,474.56C220.91,473.61 224.7,469.19 227.22,468.88C229.75,468.56 232.9,470.77 234.8,472.66C236.69,474.56 238.27,477.4 238.59,480.24C238.9,483.08 238.27,488.13 236.69,489.71C235.11,491.29 231.64,490.66 229.12,489.71C226.59,488.76 223.12,486.55 221.54,484.03C219.96,481.5 219.96,476.14 219.64,474.56" fill="none" stroke="#30b452" stroke-width="3.41" stroke-linecap="round" stroke-linejoin="round"/>
<path d="M221.54,497.29C223.12,496.66 228.17,492.87 231.01,493.5C233.85,494.13 237.64,497.92 238.59,501.08C239.53,504.23 238.27,509.29 236.69,512.44C235.11,515.6 231.64,520.02 229.12,520.02C226.59,520.02 222.8,516.23 221.54,512.44C220.28,508.65 221.54,499.81 221.54,497.29" fill="none" stroke="#30b452" stroke-width="3.03" stroke-linecap="round" stroke-linejoin="round"/>
<circle cx="230.06" cy="480.24" r="4.55" fill="#000000" opacity="0.8"/>
<ellipse cx="229.49" cy="505.81" rx="5.3" ry="7.58" fill="#000000" opacity="0.8"/>
<path d="M246.16,432.88C247.43,430.36 249.64,427.2 251.85,427.2C254.06,427.2 256.9,430.67 259.42,432.88C261.95,435.09 265.11,437.3 267,440.46C268.9,443.62 268.9,448.35 270.79,451.83C272.68,455.3 277.1,458.14 278.37,461.3C279.63,464.46 279.31,467.93 278.37,470.77C277.42,473.61 273.95,475.19 272.68,478.35C271.42,481.5 271.74,487.19 270.79,489.71C269.84,492.24 268.58,494.13 267,493.5C265.42,492.87 262.27,489.08 261.32,485.92C260.37,482.77 261.95,477.72 261.32,474.56C260.69,471.4 259.11,469.51 257.53,466.98C255.95,464.46 253.74,461.93 251.85,459.4C249.95,456.88 247.43,454.67 246.16,451.83C244.9,448.99 244.27,445.51 244.27,442.36C244.27,439.2 244.9,435.41 246.16,432.88Z" fill="#30b452" stroke="#1c9a44" stroke-width="1.5" stroke-linejoin="round"/>
<path d="M257.53,451.83C258.79,449.93 264,448.35 267,449.93C270,451.51 274.26,457.83 275.52,461.3C276.79,464.77 275.68,468.56 274.58,470.77C273.47,472.98 270.79,474.87 268.9,474.56C267,474.24 264.79,471.09 263.21,468.88C261.63,466.67 260.37,464.14 259.42,461.3C258.48,458.46 256.27,453.72 257.53,451.83Z" fill="#5fc04c" stroke="#22a846" stroke-width="2.6" stroke-linejoin="round" opacity="0.8"/>
<ellipse cx="252.23" cy="447.66" rx="3.79" ry="5.3" fill="#000000"/>
<path d="M282.15,484.03C283.1,480.87 286.26,478.03 287.84,478.35C289.42,478.66 290.68,482.13 291.63,485.92C292.57,489.71 292.57,496.66 293.52,501.08C294.47,505.5 296.84,508.97 297.31,512.44C297.78,515.92 297.31,520.65 296.36,521.91C295.41,523.18 293.36,522.23 291.63,520.02C289.89,517.81 287.52,512.44 285.94,508.65C284.36,504.87 282.79,501.39 282.15,497.29C281.52,493.18 281.21,487.19 282.15,484.03Z" fill="#30b452" stroke="#1c9a44" stroke-width="1.5" stroke-linejoin="round"/>
<path d="M267,512.44C267.95,509.92 272.37,508.02 274.58,508.65C276.79,509.29 279.16,511.84 280.26,516.23C281.37,520.62 283.73,531.86 281.21,534.98C278.68,538.11 267.16,536.85 265.11,534.98C263.05,533.12 268.58,527.57 268.9,523.81C269.21,520.05 266.05,514.97 267,512.44Z" fill="#30b452" stroke="#1c9a44" stroke-width="1.5" stroke-linejoin="round"/>
<ellipse cx="239.53" cy="421.52" rx="4.17" ry="2.65" fill="#30b452" opacity="0.8"/>
<circle cx="94.63" cy="518.13" r="2.65" fill="#b81c1e" opacity="0.8"/>
<path d="M132.51,484.03C133.14,486.24 134.4,493.18 136.3,497.29C138.19,501.39 142.61,506.76 143.88,508.65" fill="none" stroke="#30b452" stroke-width="8.33" stroke-linecap="round" stroke-linejoin="round" opacity="0.75"/>
<path d="M117.36,461.3C118.93,462.88 125.25,469.19 126.83,470.77" fill="none" stroke="#30b452" stroke-width="7.58" stroke-linecap="round" stroke-linejoin="round" opacity="0.7"/>
<path d="M155.24,470.77C156.82,472.03 161.87,475.19 164.71,478.35C167.55,481.5 171.03,487.82 172.29,489.71" fill="none" stroke="#30b452" stroke-width="7.58" stroke-linecap="round" stroke-linejoin="round" opacity="0.8"/>
<path d="M100.31,484.03C100.78,486.24 103.15,493.18 103.15,497.29C103.15,501.39 100.78,506.76 100.31,508.65" fill="none" stroke="#30b452" stroke-width="9.47" stroke-linecap="round" stroke-linejoin="round" opacity="0.5"/>
<path d="M240.48,525.7C242.38,524.12 248.69,519.07 251.85,516.23C255,513.39 258.16,509.92 259.42,508.65" fill="none" stroke="#30b452" stroke-width="7.58" stroke-linecap="round" stroke-linejoin="round" opacity="0.7"/>
<path d="M270.79,489.71C270.79,492.87 270.79,505.5 270.79,508.65" fill="none" stroke="#30b452" stroke-width="11.37" stroke-linecap="round" stroke-linejoin="round" opacity="0.85"/>
<path d="M159.03,449.93C159.98,450.88 162.82,453.41 164.71,455.62C166.61,457.83 169.45,461.93 170.39,463.19" fill="none" stroke="#30b452" stroke-width="6.82" stroke-linecap="round" stroke-linejoin="round" opacity="0.8"/>
<path d="M232.9,420.57C234.17,421.05 239.22,422.94 240.48,423.41" fill="none" stroke="#30b452" stroke-width="6.82" stroke-linecap="round" stroke-linejoin="round" opacity="0.7"/>
<path d="M178.92,525C178.82,527.53 179.2,535.1 178.35,540.15C177.5,545.21 175.7,550.57 173.8,555.31C171.91,560.04 169.7,564.84 166.99,568.57C164.27,572.29 159.09,576.14 157.51,577.66" fill="none" stroke="#30b452" stroke-width="9.47" stroke-linecap="round" stroke-linejoin="round"/>
<path d="M178.92,525C178.82,527.53 179.2,535.1 178.35,540.15C177.5,545.21 175.7,550.57 173.8,555.31C171.91,560.04 169.45,565.09 166.99,568.57C164.52,572.04 160.36,574.88 159.03,576.14" fill="none" stroke="#5fc04c" stroke-width="4.17" stroke-linecap="round" stroke-linejoin="round" opacity="0.85"/>
<path d="M124.93,570.46C125.88,568.57 129.67,565.25 132.51,563.83C135.35,562.41 139.77,561.15 141.98,561.94C144.19,562.73 146.09,566.36 145.77,568.57C145.45,570.78 142.3,573.62 140.09,575.2C137.88,576.78 134.72,578.04 132.51,578.04C130.3,578.04 128.09,576.46 126.83,575.2C125.56,573.93 123.99,572.36 124.93,570.46Z" fill="#30b452" stroke="#1c9a44" stroke-width="1.5" stroke-linejoin="round"/>
<path d="M127.21,571.41C127.77,569.86 131.15,567.15 133.46,566.1C135.76,565.06 139.52,564.59 141.03,565.16C142.55,565.73 143.34,568 142.55,569.51C141.76,571.03 138.38,573.27 136.3,574.25C134.21,575.23 131.56,575.86 130.05,575.39C128.53,574.91 126.64,572.96 127.21,571.41Z" fill="#5fc04c" stroke="#22a846" stroke-width="2.6" stroke-linejoin="round" opacity="0.85"/>
<path d="M145.77,569.51C147.35,570.62 153.66,575.04 155.24,576.14" fill="none" stroke="#30b452" stroke-width="5.68" stroke-linecap="round" stroke-linejoin="round"/>
<path d="M134.4,538.26C135.41,535.73 139.14,530.75 141.98,528.79C144.82,526.83 148.77,525.88 151.45,526.52C154.14,527.15 157.77,529.99 158.08,532.58C158.4,535.17 153.66,538.89 153.35,542.05C153.03,545.21 156.5,548.68 156.19,551.52C155.87,554.36 153.35,558.31 151.45,559.1C149.56,559.89 146.87,557.83 144.82,556.25C142.77,554.68 140.62,551.68 139.14,549.63C137.66,547.57 136.71,545.84 135.92,543.94C135.13,542.05 133.39,540.79 134.4,538.26Z" fill="#30b452" stroke="#1c9a44" stroke-width="1.5" stroke-linejoin="round" opacity="0.9"/>
<ellipse cx="146.72" cy="535.42" rx="4.55" ry="5.68" fill="#000000"/>
<ellipse cx="146.15" cy="550" rx="3.79" ry="4.17" fill="#000000"/>
<path d="M210.17,525C215.22,523.42 239.85,523.74 246.16,525C252.48,526.26 249.01,530.37 248.06,532.58C247.11,534.79 243.32,536.68 240.48,538.26C237.64,539.84 233.85,540.15 231.01,542.05C228.17,543.94 225.33,546.78 223.43,549.63C221.54,552.47 221.22,556.57 219.64,559.1C218.07,561.62 216.17,564.15 213.96,564.78C211.75,565.41 207.02,564.78 206.39,562.88C205.75,560.99 208.91,556.57 210.17,553.41C211.44,550.26 213.01,547.1 213.96,543.94C214.91,540.79 216.49,537.63 215.86,534.47C215.22,531.31 205.12,526.58 210.17,525Z" fill="#30b452" stroke="#1c9a44" stroke-width="1.5" stroke-linejoin="round"/>
<path d="M217.75,526.52C222.3,524.56 239.85,525.35 244.27,526.52C248.69,527.68 246.16,531.57 244.27,533.52C242.38,535.48 236.31,536.52 232.9,538.26C229.49,540 226.27,541.42 223.81,543.94C221.35,546.47 219.71,552.47 218.13,553.41C216.55,554.36 214.53,552.15 214.34,549.63C214.15,547.1 216.42,542.11 216.99,538.26C217.56,534.41 213.2,528.47 217.75,526.52Z" fill="#5fc04c" stroke="#22a846" stroke-width="2.6" stroke-linejoin="round" opacity="0.9"/>
<path d="M191.23,543.94C190.6,541.73 193.44,535.1 195.02,532.58C196.6,530.05 199.44,527.84 200.7,528.79C201.97,529.74 202.91,535.42 202.6,538.26C202.28,541.1 200.7,544.89 198.81,545.84C196.91,546.78 191.86,546.15 191.23,543.94Z" fill="#30b452" stroke="#1c9a44" stroke-width="1.5" stroke-linejoin="round"/>
<path d="M166.61,591.3C166.92,589.4 171.34,587.51 174.18,585.62C177.02,583.72 180.81,582.14 183.65,579.93C186.5,577.72 188.39,573.3 191.23,572.36C194.07,571.41 198.49,572.67 200.7,574.25C202.91,575.83 202.28,579.62 204.49,581.83C206.7,584.04 210.81,587.19 213.96,587.51C217.12,587.83 221.07,583.41 223.43,583.72C225.8,584.04 227.85,586.88 228.17,589.4C228.48,591.93 226.75,596.35 225.33,598.88C223.91,601.4 220.28,602.03 219.64,604.56C219.01,607.08 221.85,611.5 221.54,614.03C221.22,616.55 219.64,619.4 217.75,619.71C215.86,620.03 212.7,616.24 210.17,615.92C207.65,615.61 205.75,617.19 202.6,617.82C199.44,618.45 195.02,619.71 191.23,619.71C187.44,619.71 183.34,618.76 179.87,617.82C176.39,616.87 171.03,615.61 170.39,614.03C169.76,612.45 174.81,610.56 176.08,608.35C177.34,606.14 178.6,602.66 177.97,600.77C177.34,598.88 174.18,598.56 172.29,596.98C170.39,595.4 166.29,593.19 166.61,591.3Z" fill="#30b452" stroke="#1c9a44" stroke-width="1.5" stroke-linejoin="round"/>
<path d="M191.61,581.83C193.44,580.25 198.24,578.67 200.7,579.93C203.16,581.2 203.86,587.19 206.39,589.4C208.91,591.61 213.65,591.3 215.86,593.19C218.07,595.09 219.96,598.56 219.64,600.77C219.33,602.98 216.8,605.82 213.96,606.45C211.12,607.08 205.75,606.14 202.6,604.56C199.44,602.98 197.17,599.51 195.02,596.98C192.87,594.46 190.28,591.93 189.72,589.4C189.15,586.88 189.78,583.41 191.61,581.83Z" fill="#5fc04c" stroke="#22a846" stroke-width="2.6" stroke-linejoin="round" opacity="0.85"/>
<path d="M181.76,613.08C184.92,612.45 199.44,612.86 202.6,613.65C205.75,614.44 203.86,617.19 200.7,617.82C197.55,618.45 186.81,618.23 183.65,617.44C180.5,616.65 178.6,613.71 181.76,613.08Z" fill="#5fc04c" stroke="#22a846" stroke-width="2.6" stroke-linejoin="round" opacity="0.7"/>
<ellipse cx="186.5" cy="603.61" rx="6.82" ry="7.2" fill="#000000"/>
<ellipse cx="214.91" cy="579.55" rx="4.93" ry="4.55" fill="#000000"/>
<circle cx="211.12" cy="609.29" r="3.03" fill="#000000" opacity="0.9"/>
<path d="M267,525C269.53,523.11 279.16,523.11 282.15,525C285.15,526.89 284.36,531.95 285,536.37C285.63,540.79 285.47,547.1 285.94,551.52C286.42,555.94 288.15,558.46 287.84,562.88C287.52,567.3 285.31,573.62 284.05,578.04C282.79,582.46 281.84,586.56 280.26,589.4C278.68,592.25 276.79,593.19 274.58,595.09C272.37,596.98 269.21,598.56 267,600.77C264.79,602.98 262.42,605.51 261.32,608.35C260.21,611.19 261,614.66 260.37,617.82C259.74,620.97 258.95,624.13 257.53,627.29C256.11,630.45 254.06,634.55 251.85,636.76C249.64,638.97 246.8,640.86 244.27,640.55C241.74,640.23 238.9,637.08 236.69,634.87C234.48,632.66 231.01,629.18 231.01,627.29C231.01,625.39 234.48,623.5 236.69,623.5C238.9,623.5 242.06,627.92 244.27,627.29C246.48,626.66 249.64,622.24 249.95,619.71C250.27,617.19 248.06,613.08 246.16,612.13C244.27,611.19 240.8,614.66 238.59,614.03C236.38,613.4 233.22,610.56 232.9,608.35C232.59,606.14 234.48,602.66 236.69,600.77C238.9,598.88 243.01,598.88 246.16,596.98C249.32,595.09 252.79,591.93 255.64,589.4C258.48,586.88 261,584.67 263.21,581.83C265.42,578.99 267.63,576.14 268.9,572.36C270.16,568.57 270.79,563.2 270.79,559.1C270.79,554.99 269.53,551.52 268.9,547.73C268.26,543.94 267.32,540.15 267,536.37C266.69,532.58 264.48,526.89 267,525Z" fill="#30b452" stroke="#1c9a44" stroke-width="1.5" stroke-linejoin="round"/>
<path d="M270.79,526.89C272.37,524.68 278.21,524.68 280.26,526.89C282.31,529.1 282.47,534.79 283.1,540.15C283.73,545.52 284.21,553.1 284.05,559.1C283.89,565.09 283.42,571.41 282.15,576.14C280.89,580.88 278.3,586.25 276.47,587.51C274.64,588.77 271.61,586.56 271.17,583.72C270.73,580.88 273.57,575.51 273.82,570.46C274.07,565.41 273.19,558.46 272.68,553.41C272.18,548.36 271.1,544.57 270.79,540.15C270.47,535.73 269.21,529.1 270.79,526.89Z" fill="#5fc04c" stroke="#22a846" stroke-width="2.6" stroke-linejoin="round" opacity="0.8"/>
<path d="M273.63,551.52C274.83,549.37 278.27,548.11 279.88,550C281.49,551.9 283.29,558.59 283.29,562.88C283.29,567.18 281.33,573.93 279.88,575.77C278.43,577.6 275.78,576.02 274.58,573.87C273.38,571.72 272.84,566.61 272.68,562.88C272.53,559.16 272.43,553.67 273.63,551.52Z" fill="#a8d040" opacity="0.9"/>
<ellipse cx="241.43" cy="619.71" rx="4.55" ry="3.41" fill="#000000"/>
<circle cx="255.64" cy="601.72" r="3.03" fill="#000000" opacity="0.9"/>
<circle cx="249.95" cy="572.36" r="3.03" fill="#30b452" opacity="0.8"/>
<circle cx="240.48" cy="587.51" r="3.03" fill="#30b452" opacity="0.8"/>
<circle cx="259.42" cy="559.1" r="2.65" fill="#30b452" opacity="0.7"/>
<circle cx="246.16" cy="559.1" r="2.27" fill="#30b452" opacity="0.7"/>
<path d="M232.9,553.41C235.43,550.26 241.74,546.78 246.16,545.84C250.58,544.89 255.64,546.47 259.42,547.73C263.21,548.99 267.32,549.31 268.9,553.41C270.47,557.52 270.16,567.3 268.9,572.36C267.63,577.41 264.16,580.25 261.32,583.72C258.48,587.19 255.32,590.67 251.85,593.19C248.37,595.72 243.64,599.19 240.48,598.88C237.32,598.56 233.54,594.77 232.9,591.3C232.27,587.83 237.01,582.46 236.69,578.04C236.38,573.62 231.64,568.88 231.01,564.78C230.38,560.67 230.38,556.57 232.9,553.41Z" fill="#30b452" stroke="#1c9a44" stroke-width="1.5" stroke-linejoin="round" opacity="0.6"/>
<circle cx="241.43" cy="565.73" r="3.03" fill="#000000" opacity="0.85"/>
<circle cx="252.79" cy="560.99" r="2.65" fill="#000000" opacity="0.85"/>
<circle cx="246.16" cy="581.83" r="3.03" fill="#000000" opacity="0.85"/>
<circle cx="257.53" cy="574.25" r="2.46" fill="#000000" opacity="0.85"/>
<circle cx="261.32" cy="560.99" r="1.89" fill="#000000" opacity="0.85"/>
<circle cx="238.59" cy="553.41" r="1.89" fill="#000000" opacity="0.85"/>
<circle cx="88" cy="543" r="2.84" fill="#f22428"/>
<circle cx="92.35" cy="535.42" r="2.27" fill="#e26420" opacity="0.8"/>
<ellipse cx="94.25" cy="529.17" rx="2.27" ry="3.03" fill="#30b452" opacity="0.8"/>
<circle cx="88.94" cy="553.41" r="2.27" fill="#6a1414" opacity="0.8"/>
<ellipse cx="321.68" cy="416.37" rx="0.92" ry="6.94" fill="#30b452" opacity="0.8"/>
<ellipse cx="65.03" cy="384.69" rx="1.39" ry="0.92" fill="#30b452" opacity="0.8"/></g></g>
<g clip-path="url(#cp6)"><g filter="url(#fhp6)"><path d="M386.62,508.86C388.55,504.42 394.13,502.5 398.18,500.76C402.23,499.03 407.24,497.1 410.9,498.45C414.56,499.8 417.64,505.19 420.14,508.86C422.65,512.52 423.03,516.56 425.92,520.42C428.82,524.27 433.82,528.12 437.49,531.98C441.15,535.83 446.54,539.49 447.89,543.54C449.24,547.58 447.89,553.75 445.58,556.25C443.27,558.76 437.1,556.45 434.02,558.57C430.93,560.69 428.43,564.92 427.08,568.97C425.73,573.02 425.15,578.99 425.92,582.84C426.7,586.7 429.59,589.97 431.71,592.09C433.82,594.21 439.03,593.63 438.64,595.56C438.26,597.49 430.55,600.38 429.39,603.65C428.24,606.93 429.39,611.75 431.71,615.21C434.02,618.68 439.61,622.34 443.27,624.46C446.93,626.58 451.74,625.81 453.67,627.93C455.6,630.05 456.37,635.06 454.83,637.18C453.29,639.3 448.08,639.88 444.42,640.65C440.76,641.42 436.91,642.77 432.86,641.8C428.82,640.84 424.19,637.95 420.14,634.87C416.1,631.78 412.05,627.55 408.58,623.31C405.12,619.07 402.03,614.44 399.34,609.43C396.64,604.42 393.75,598.84 392.4,593.25C391.05,587.66 391.82,581.11 391.24,575.91C390.66,570.71 389.89,567.04 388.93,562.03C387.97,557.03 385.85,551.63 385.46,545.85C385.08,540.07 386.43,533.52 386.62,527.35C386.81,521.19 384.69,513.29 386.62,508.86Z" fill="#1b8038"/>
<path d="M453.67,492.67C455.02,490.36 459.07,491.51 460.61,494.98C462.15,498.45 461.96,507.31 462.92,513.48C463.88,519.65 466.77,527.74 466.39,531.98C466,536.22 462.34,540.45 460.61,538.91C458.87,537.37 457.33,527.74 455.98,522.73C454.63,517.72 452.9,513.87 452.51,508.86C452.13,503.85 452.32,494.98 453.67,492.67Z" fill="#0f4a22"/>
<path d="M564.65,504.23C566,501.15 573.13,503.46 575.06,506.54C576.98,509.63 577.56,519.65 576.21,522.73C574.87,525.81 568.89,528.12 566.97,525.04C565.04,521.96 563.3,507.31 564.65,504.23Z" fill="#0f4a22"/>
<path d="M566.97,545.85C568.31,542.77 574.48,544.31 576.21,548.16C577.95,552.02 578.72,565.89 577.37,568.97C576.02,572.05 569.86,570.51 568.12,566.66C566.39,562.81 565.62,548.93 566.97,545.85Z" fill="#0f4a22"/>
<ellipse cx="530.43" cy="428.39" rx="4.16" ry="5.55" fill="#3a0c0c"/>
<ellipse cx="393.55" cy="460.3" rx="4.16" ry="2.77" fill="#3a0c0c" opacity="0.8"/></g><g filter="url(#frp6)"><path d="M388.24,510.01C389.89,505.89 394.6,504.23 398.18,502.61C401.76,500.99 406.35,499.14 409.74,500.3C413.13,501.46 416.1,506.12 418.53,509.55C420.95,512.98 421.42,517.06 424.31,520.88C427.2,524.69 432.24,528.59 435.87,532.44C439.49,536.29 444.69,540.3 446.04,544C447.39,547.7 446.16,552.48 443.96,554.64C441.76,556.79 435.87,554.56 432.86,556.95C429.86,559.34 427.27,564.66 425.92,568.97C424.58,573.29 424,579.07 424.77,582.84C425.54,586.62 428.51,589.7 430.55,591.63C432.59,593.56 437.41,592.4 437.02,594.4C436.64,596.41 429.32,600.26 428.24,603.65C427.16,607.04 428.24,611.36 430.55,614.75C432.86,618.14 438.53,621.88 442.11,624C445.69,626.12 450.2,625.54 452.05,627.47C453.9,629.39 454.48,633.63 453.21,635.56C451.94,637.49 447.81,638.26 444.42,639.03C441.03,639.8 436.64,641.15 432.86,640.18C429.08,639.22 425.54,636.33 421.76,633.25C417.99,630.17 413.67,625.85 410.2,621.69C406.73,617.53 403.65,613.21 400.95,608.28C398.26,603.34 395.37,597.49 394.02,592.09C392.67,586.7 393.44,580.92 392.86,575.91C392.28,570.9 391.47,567.04 390.55,562.03C389.62,557.03 387.7,551.63 387.31,545.85C386.93,540.07 388.08,533.33 388.24,527.35C388.39,521.38 386.58,514.13 388.24,510.01Z" fill="#30b452" stroke="#1c9a44" stroke-width="1.5" stroke-linejoin="round"/>
<path d="M394.71,545.85C396.56,543.15 401.07,544.31 405.12,543.54C409.16,542.77 414.36,541.23 418.99,541.23C423.61,541.23 429.78,542 432.86,543.54C435.94,545.08 438.64,547.78 437.49,550.47C436.33,553.17 428.62,555.87 425.92,559.72C423.23,563.58 422.07,568.2 421.3,573.6C420.53,578.99 422.46,586.7 421.3,592.09C420.14,597.49 414.36,601.34 414.36,605.97C414.36,610.59 418.22,615.98 421.3,619.84C424.38,623.69 429.01,627.16 432.86,629.09C436.71,631.01 443.65,630.05 444.42,631.4C445.19,632.75 440.57,636.79 437.49,637.18C434.4,637.56 429.78,635.83 425.92,633.71C422.07,631.59 417.83,628.32 414.36,624.46C410.9,620.61 407.81,615.98 405.12,610.59C402.42,605.19 399.53,598.26 398.18,592.09C396.83,585.93 397.72,578.99 397.02,573.6C396.33,568.2 394.4,564.35 394.02,559.72C393.63,555.1 392.86,548.55 394.71,545.85Z" fill="#5fc04c" stroke="#22a846" stroke-width="2.6" stroke-linejoin="round" opacity="0.85"/>
<path d="M390.09,513.48C391.63,509.82 396.06,506.93 399.34,505.39C402.61,503.85 406.66,502.88 409.74,504.23C412.82,505.58 415.71,509.63 417.83,513.48C419.95,517.33 421.88,522.34 422.46,527.35C423.03,532.36 423.03,539.3 421.3,543.54C419.57,547.78 415.52,551.63 412.05,552.79C408.58,553.94 403.77,552.4 400.49,550.47C397.22,548.55 394.13,545.08 392.4,541.23C390.66,537.37 390.47,531.98 390.09,527.35C389.7,522.73 388.55,517.14 390.09,513.48Z" fill="#a8d040"/>
<path d="M394.71,516.95C396.18,513.87 400.11,510.97 402.8,510.01C405.5,509.05 408.78,509.05 410.9,511.17C413.02,513.29 414.94,518.49 415.52,522.73C416.1,526.97 415.91,533.13 414.36,536.6C412.82,540.07 408.97,543.15 406.27,543.54C403.57,543.92 400.22,541.42 398.18,538.91C396.14,536.41 394.6,532.17 394.02,528.51C393.44,524.85 393.25,520.03 394.71,516.95Z" fill="#e6e234" opacity="0.8"/>
<path d="M419.45,492.67C420.53,488.2 422.92,483.81 425.92,481.57C428.93,479.34 434.09,478.87 437.49,479.26C440.88,479.65 445.19,480.88 446.27,483.88C447.35,486.89 445.42,493.6 443.96,497.29C442.5,500.99 440.49,503.46 437.49,506.08C434.48,508.7 428.93,512.63 425.92,513.02C422.92,513.4 420.53,511.78 419.45,508.39C418.37,505 418.37,497.14 419.45,492.67Z" fill="#b81c1e"/>
<path d="M421.3,499.61C423.03,496.6 427.27,492.09 430.55,490.36C433.82,488.62 438.83,487.85 440.95,489.2C443.07,490.55 443.92,495.64 443.27,498.45C442.61,501.26 439.84,503.73 437.02,506.08C434.21,508.43 429.2,512.17 426.39,512.55C423.57,512.94 420.99,510.55 420.14,508.39C419.3,506.24 419.57,502.61 421.3,499.61Z" fill="#e26420" opacity="0.8"/>
<path d="M422.46,506.54C423.23,504.23 427.66,500.18 430.55,498.45C433.44,496.72 438.06,495.56 439.8,496.14C441.53,496.72 441.72,499.99 440.95,501.92C440.18,503.85 437.68,505.97 435.17,507.7C432.67,509.43 428.04,512.52 425.92,512.32C423.81,512.13 421.69,508.86 422.46,506.54Z" fill="#e6e234" opacity="0.75"/>
<ellipse cx="447.89" cy="486.2" rx="4.16" ry="3.7" fill="#30b452"/>
<ellipse cx="461.76" cy="527.35" rx="4.16" ry="8.32" fill="#1b8038"/>
<ellipse cx="457.14" cy="503.08" rx="2.77" ry="9.25" fill="#1b8038" opacity="0.9"/>
<ellipse cx="427.08" cy="582.84" rx="3.24" ry="5.09" fill="#000000" opacity="0.9"/>
<ellipse cx="437.49" cy="618.68" rx="3.24" ry="2.31" fill="#000000" opacity="0.8"/>
<ellipse cx="447.89" cy="548.16" rx="2.77" ry="3.7" fill="#6a1414"/>
<path d="M517.72,624.46C517.33,621.07 519.14,615.98 521.18,612.9C523.23,609.82 526.66,607.89 529.97,605.97C533.29,604.04 539.22,603.65 541.07,601.34C542.92,599.03 541.57,595.56 541.07,592.09C540.57,588.62 538.18,584.31 538.06,580.53C537.95,576.76 538.64,572.05 540.38,569.43C542.11,566.81 546.23,566.74 548.47,564.81C550.7,562.88 552.9,560.96 553.79,557.87C554.67,554.79 552.82,548.93 553.79,546.31C554.75,543.69 558.22,541.46 559.57,542.15C560.92,542.84 562.07,547.16 561.88,550.47C561.69,553.79 559.18,557.8 558.41,562.03C557.64,566.27 557.45,571.28 557.25,575.91C557.06,580.53 557.06,585.16 557.25,589.78C557.45,594.4 558.41,599.03 558.41,603.65C558.41,608.28 558.53,613.36 557.25,617.53C555.98,621.69 553.02,625.46 550.78,628.62C548.55,631.78 546.93,634.94 543.84,636.49C540.76,638.03 535.67,638.41 532.28,637.87C528.89,637.33 525.92,635.48 523.5,633.25C521.07,631.01 518.1,627.85 517.72,624.46Z" fill="#5fc04c" stroke="#22a846" stroke-width="2.6" stroke-linejoin="round"/>
<path d="M551.94,545.85C552.71,542.07 556.95,539.38 558.87,539.38C560.8,539.38 563.11,542.46 563.5,545.85C563.88,549.24 562.73,557.03 561.18,559.72C559.64,562.42 555.79,564.35 554.25,562.03C552.71,559.72 551.17,549.63 551.94,545.85Z" fill="#30b452" stroke="#1c9a44" stroke-width="1.5" stroke-linejoin="round" opacity="0.9"/>
<ellipse cx="540.38" cy="515.79" rx="3.47" ry="3.24" fill="#30b452" opacity="0.9"/>
<ellipse cx="569.74" cy="513.48" rx="4.62" ry="8.79" fill="#1b8038"/>
<ellipse cx="571.59" cy="557.41" rx="3.7" ry="10.64" fill="#1b8038" opacity="0.9"/>
<ellipse cx="491.13" cy="481.11" rx="0.92" ry="6.01" fill="#1b8038" opacity="0.8"/></g></g>
<g clip-path="url(#cp7)"><g filter="url(#fhp7)"><path d="M735.09,476.49C737.4,473.79 746.07,471.09 750.12,471.86C754.16,472.63 758.59,477.64 759.36,481.11C760.13,484.58 757.44,489.59 754.74,492.67C752.04,495.75 746.26,500.38 743.18,499.61C740.1,498.84 737.59,491.9 736.24,488.05C734.89,484.19 732.77,479.18 735.09,476.49Z" fill="#0f4a22"/>
<path d="M928.15,545.85C929.88,543.34 938.94,545.46 940.87,548.16C942.79,550.86 941.45,559.53 939.71,562.03C937.98,564.54 932.39,565.89 930.46,563.19C928.54,560.49 926.42,548.35 928.15,545.85Z" fill="#0f4a22"/>
<path d="M819.48,513.48C819.87,509.63 826.42,506.54 828.73,508.86C831.04,511.17 833.74,523.5 833.35,527.35C832.97,531.21 828.73,534.29 826.42,531.98C824.1,529.66 819.09,517.33 819.48,513.48Z" fill="#0f4a22"/>
<path d="M870.35,562.03C870.73,558.95 878.44,556.06 881.91,555.1C885.38,554.13 890,553.94 891.16,556.25C892.31,558.57 890.77,566.08 888.84,568.97C886.92,571.86 882.68,574.75 879.6,573.6C876.51,572.44 869.96,565.12 870.35,562.03Z" fill="#0f4a22"/>
<path d="M828.73,592.09C829.69,588.62 836.05,590.55 837.98,594.4C839.9,598.26 839.52,607.12 840.29,615.21C841.06,623.31 843.18,637.95 842.6,642.96C842.02,647.97 838.55,649.9 836.82,645.27C835.09,640.65 833.55,624.08 832.2,615.21C830.85,606.35 827.76,595.56 828.73,592.09Z" fill="#0f4a22"/>
<path d="M851.85,423.31C853.39,421.38 866.49,417.91 870.35,418.68C874.2,419.45 876.51,426 874.97,427.93C873.43,429.86 864.95,431.01 861.1,430.24C857.24,429.47 850.31,425.23 851.85,423.31Z" fill="#0f4a22"/></g><g filter="url(#frp7)"><path d="M772.54,441.8C773.04,439.18 776.2,436.6 779.02,434.17C781.83,431.75 785.76,428.01 789.42,427.24C793.08,426.47 797.59,428.47 800.98,429.55C804.37,430.63 808.11,430.9 809.77,433.71C811.43,436.52 811.62,443.23 810.92,446.43C810.23,449.63 808.03,451.24 805.61,452.9C803.18,454.56 799.06,455.21 796.36,456.37C793.66,457.53 791.85,460.34 789.42,459.84C786.99,459.34 784.03,455.02 781.79,453.36C779.56,451.71 777.55,451.82 776.01,449.9C774.47,447.97 772.04,444.42 772.54,441.8Z" fill="#5fc04c" stroke="#22a846" stroke-width="2.6" stroke-linejoin="round"/>
<path d="M747.11,457.99C747.42,454.98 750.77,451.82 753.58,450.36C756.4,448.89 760.98,448.32 763.99,449.2C766.99,450.09 769.77,452.67 771.62,455.68C773.47,458.68 773.47,464.35 775.09,467.24C776.71,470.13 778.63,471.09 781.33,473.02C784.03,474.94 790,476.76 791.27,478.8C792.54,480.84 790.62,483.61 788.96,485.27C787.3,486.93 783.56,486.74 781.33,488.74C779.09,490.74 777.67,494.4 775.55,497.29C773.43,500.18 771.7,504.04 768.61,506.08C765.53,508.12 760.64,509.16 757.05,509.55C753.47,509.93 749.34,510.05 747.11,508.39C744.87,506.74 744.41,503 743.64,499.61C742.87,496.22 743.83,491.13 742.49,488.05C741.14,484.96 735.93,482.96 735.55,481.11C735.16,479.26 737.75,477.26 740.17,476.95C742.6,476.64 747.3,479.53 750.12,479.26C752.93,478.99 756.78,477.14 757.05,475.33C757.32,473.52 753.39,471.28 751.73,468.39C750.08,465.5 746.8,460.99 747.11,457.99Z" fill="#5fc04c" stroke="#22a846" stroke-width="2.6" stroke-linejoin="round"/>
<ellipse cx="751.27" cy="479.26" rx="4.62" ry="3.7" fill="#000000" opacity="0.9"/>
<path d="M823.41,478.8C823.91,475.79 826.11,472.44 827.57,470.01C829.04,467.58 830.66,463.92 832.2,464.23C833.74,464.54 835.47,469.05 836.82,471.86C838.17,474.67 837.78,480.26 840.29,481.11C842.79,481.96 848.27,477.45 851.85,476.95C855.43,476.45 860.33,477.03 861.79,478.1C863.26,479.18 862.29,482.23 860.64,483.42C858.98,484.62 854.86,484.39 851.85,485.27C848.84,486.16 844.91,488.66 842.6,488.74C840.29,488.82 840.29,485.54 837.98,485.73C835.66,485.93 830.96,489.51 828.73,489.9C826.49,490.28 825.45,489.9 824.57,488.05C823.68,486.2 822.91,481.8 823.41,478.8Z" fill="#30b452" stroke="#1c9a44" stroke-width="1.5" stroke-linejoin="round"/>
<path d="M800.29,504.23C800.79,502.65 803.37,499.99 805.61,498.91C807.84,497.83 812.24,497.06 813.7,497.76C815.16,498.45 815.16,501.5 814.39,503.08C813.62,504.66 811.04,506.35 809.08,507.24C807.11,508.12 804.07,508.89 802.6,508.39C801.14,507.89 799.79,505.81 800.29,504.23Z" fill="#30b452" stroke="#1c9a44" stroke-width="1.5" stroke-linejoin="round"/>
<path d="M819.94,508.86C820.44,507.08 824.26,505.85 825.26,507.01C826.26,508.16 826.45,514.02 825.95,515.79C825.45,517.56 823.26,518.8 822.25,517.64C821.25,516.49 819.44,510.63 819.94,508.86Z" fill="#30b452" stroke="#1c9a44" stroke-width="1.5" stroke-linejoin="round" opacity="0.8"/>
<path d="M878.9,429.09C879.4,427.04 881.79,424.08 884.22,423.77C886.65,423.46 890.66,425.58 893.47,427.24C896.28,428.89 899.25,431.28 901.1,433.71C902.95,436.14 902.83,439.49 904.57,441.8C906.3,444.12 911.43,446.7 911.5,447.58C911.58,448.47 907.65,448.08 905.03,447.12C902.41,446.16 898.86,443.08 895.78,441.8C892.7,440.53 888.96,440.45 886.53,439.49C884.1,438.53 882.49,437.76 881.21,436.02C879.94,434.29 878.4,431.13 878.9,429.09Z" fill="#5fc04c" stroke="#22a846" stroke-width="2.6" stroke-linejoin="round"/>
<path d="M906.65,457.99C906.76,455.75 908.96,452.98 910.81,451.51C912.66,450.05 915.7,448.51 917.75,449.2C919.79,449.9 922.18,453.25 923.06,455.68C923.95,458.1 924.14,461.53 923.06,463.77C921.98,466 918.82,467.24 916.59,469.09C914.35,470.94 911.12,474.4 909.65,474.87C908.19,475.33 907.73,473.52 907.8,471.86C907.88,470.2 910.31,467.24 910.12,464.92C909.92,462.61 906.53,460.22 906.65,457.99Z" fill="#b81c1e"/>
<circle cx="915.43" cy="457.53" r="3.24" fill="#6a1414" opacity="0.8"/>
<path d="M918.21,490.36C919.29,487.82 921.48,484.39 923.53,481.57C925.57,478.76 928.61,473.17 930.46,473.48C932.31,473.79 933.55,480.22 934.62,483.42C935.7,486.62 937.13,489.47 936.94,492.67C936.74,495.87 934.74,501.84 933.47,502.61C932.2,503.38 930.96,498.95 929.31,497.29C927.65,495.64 925.57,492.75 923.53,492.67C921.48,492.59 917.94,497.22 917.05,496.83C916.17,496.45 917.13,492.9 918.21,490.36Z" fill="#30b452" stroke="#1c9a44" stroke-width="1.5" stroke-linejoin="round"/>
<path d="M877.75,515.79C879.98,514.91 883.53,513.67 886.53,512.79C889.54,511.9 893.08,512.02 895.78,510.47C898.48,508.93 900.1,504.5 902.72,503.54C905.34,502.57 909.27,503.04 911.5,504.69C913.74,506.35 915.74,510.09 916.13,513.48C916.51,516.87 914.97,521.19 913.82,525.04C912.66,528.89 910.73,533.13 909.19,536.6C907.65,540.07 906.42,543.23 904.57,545.85C902.72,548.47 900.25,552.32 898.09,552.32C895.93,552.32 893.08,548.86 891.62,545.85C890.15,542.84 890.85,537.37 889.31,534.29C887.76,531.21 885.84,529.28 882.37,527.35C878.9,525.43 870.04,524.27 868.5,522.73C866.96,521.19 871.58,519.26 873.12,518.1C874.66,516.95 875.51,516.68 877.75,515.79Z" fill="#30b452" stroke="#1c9a44" stroke-width="1.5" stroke-linejoin="round"/>
<path d="M886.53,518.1C887.3,515.6 893.85,516.18 896.94,514.64C900.02,513.09 902.72,509.05 905.03,508.86C907.34,508.66 910.04,510.78 910.81,513.48C911.58,516.18 910.62,521.19 909.65,525.04C908.69,528.89 906.76,533.13 905.03,536.6C903.29,540.07 900.98,545.46 899.25,545.85C897.51,546.24 895.78,541.61 894.62,538.91C893.47,536.22 893.66,533.13 892.31,529.66C890.96,526.2 885.76,520.61 886.53,518.1Z" fill="#5fc04c" stroke="#22a846" stroke-width="2.6" stroke-linejoin="round" opacity="0.8"/>
<ellipse cx="911.5" cy="543.54" rx="1.39" ry="3.24" fill="#e26420" opacity="0.8"/>
<path d="M875.43,566.66C875.43,564.89 879.75,561.65 881.91,560.18C884.07,558.72 887.5,556.79 888.38,557.87C889.27,558.95 888.3,564.5 887.23,566.66C886.15,568.82 883.87,570.82 881.91,570.82C879.94,570.82 875.43,568.43 875.43,566.66Z" fill="#30b452" stroke="#1c9a44" stroke-width="1.5" stroke-linejoin="round"/>
<path d="M929.77,548.62C931.23,546.58 937.78,547.28 939.25,549.32C940.71,551.36 940.02,558.84 938.55,560.88C937.09,562.92 931.93,563.61 930.46,561.57C929,559.53 928.3,550.67 929.77,548.62Z" fill="#1b8038"/>
<path d="M757.05,544.69C758.21,541.11 762.64,537.87 765.14,535.45C767.65,533.02 769.5,529.93 772.08,530.13C774.66,530.32 778.21,534.37 780.64,536.6C783.06,538.84 785.38,540.65 786.65,543.54C787.92,546.43 789.54,551.55 788.27,553.94C786.99,556.33 782.68,556.83 779.02,557.87C775.36,558.91 769.77,560.34 766.3,560.18C762.83,560.03 759.75,559.53 758.21,556.95C756.67,554.37 755.9,548.28 757.05,544.69Z" fill="#f22428" stroke="#c01c20" stroke-width="1.5" stroke-linejoin="round" opacity="0.95"/>
<path d="M760.06,544.69C761.1,541.84 764.76,539.41 766.76,537.53C768.77,535.64 770.12,533.13 772.08,533.36C774.05,533.6 776.59,537.06 778.55,538.91C780.52,540.76 782.83,542.23 783.87,544.46C784.91,546.7 785.8,550.55 784.8,552.32C783.8,554.1 780.87,554.25 777.86,555.1C774.86,555.95 769.65,557.49 766.76,557.41C763.87,557.33 761.64,556.76 760.52,554.64C759.4,552.52 759.02,547.55 760.06,544.69Z" fill="#e6e234"/>
<path d="M751.27,545.85C752.24,543.92 756.86,542.54 758.21,544C759.56,545.46 760.33,552.71 759.36,554.64C758.4,556.56 753.78,557.03 752.43,555.56C751.08,554.1 750.31,547.78 751.27,545.85Z" fill="#30b452" stroke="#1c9a44" stroke-width="1.5" stroke-linejoin="round"/>
<ellipse cx="737.4" cy="556.25" rx="1.85" ry="2.77" fill="#b81c1e"/>
<path d="M810.69,543.54C811.27,540.92 814.16,538.91 816.01,537.06C817.86,535.21 820.44,531.75 821.79,532.44C823.14,533.13 823.03,538.61 824.1,541.23C825.18,543.85 828.46,545.93 828.27,548.16C828.07,550.4 824.03,552.02 822.95,554.64C821.87,557.26 823.06,561.96 821.79,563.88C820.52,565.81 817.36,566.89 815.32,566.2C813.28,565.5 810,561.96 809.54,559.72C809.08,557.49 812.35,555.48 812.54,552.79C812.74,550.09 810.12,546.16 810.69,543.54Z" fill="#30b452" stroke="#1c9a44" stroke-width="1.5" stroke-linejoin="round"/>
<path d="M818.79,575.91C819.48,574.13 824.84,572.98 826.42,574.06C828,575.14 828.96,580.61 828.27,582.38C827.57,584.15 823.83,585.77 822.25,584.69C820.67,583.61 818.09,577.68 818.79,575.91Z" fill="#30b452" stroke="#1c9a44" stroke-width="1.5" stroke-linejoin="round"/>
<path d="M756.36,573.6C757.05,570.97 759.44,567.82 761.68,567.12C763.91,566.43 767.46,567.66 769.77,569.43C772.08,571.21 773.43,577.83 775.55,577.76C777.67,577.68 779.79,571.32 782.49,568.97C785.18,566.62 789.11,564.04 791.73,563.65C794.35,563.27 797.32,564.23 798.21,566.66C799.09,569.09 798.13,574.83 797.05,578.22C795.97,581.61 793.39,584.39 791.73,587.01C790.08,589.63 786.8,591.55 787.11,593.94C787.42,596.33 792.89,599.03 793.58,601.34C794.28,603.65 793.51,606.16 791.27,607.82C789.04,609.47 783.95,611.09 780.17,611.28C776.4,611.48 771.43,610.63 768.61,608.97C765.8,607.31 764.37,604.54 763.29,601.34C762.22,598.14 763.1,592.86 762.14,589.78C761.18,586.7 758.48,585.54 757.51,582.84C756.55,580.15 755.66,576.22 756.36,573.6Z" fill="#5fc04c" stroke="#22a846" stroke-width="2.6" stroke-linejoin="round"/>
<path d="M833.82,582.84C834.51,580.42 837.28,577.83 840.29,576.37C843.29,574.91 848.46,573.36 851.85,574.06C855.24,574.75 858.79,577.91 860.64,580.53C862.49,583.15 861.79,586.7 862.95,589.78C864.1,592.86 865.65,596.52 867.57,599.03C869.5,601.53 873.35,602.77 874.51,604.81C875.66,606.85 876.36,609.63 874.51,611.28C872.66,612.94 866.8,614.37 863.41,614.75C860.02,615.14 856.78,615.06 854.16,613.6C851.54,612.13 849.54,608.78 847.69,605.97C845.84,603.15 844.99,599.22 843.06,596.72C841.14,594.21 837.67,593.25 836.13,590.94C834.59,588.62 833.12,585.27 833.82,582.84Z" fill="#5fc04c" stroke="#22a846" stroke-width="2.6" stroke-linejoin="round"/>
<path d="M825.72,607.12C826.11,605.35 829.65,601.42 831.04,601.8C832.43,602.19 834.43,607.66 834.05,609.43C833.66,611.21 830.12,612.82 828.73,612.44C827.34,612.05 825.34,608.89 825.72,607.12Z" fill="#30b452" stroke="#1c9a44" stroke-width="1.5" stroke-linejoin="round"/>
<ellipse cx="840.29" cy="639.49" rx="2.08" ry="5.55" fill="#1b8038"/>
<ellipse cx="865.72" cy="632.55" rx="4.62" ry="3.24" fill="#1b8038"/>
<circle cx="912.43" cy="607.58" r="2.77" fill="#30b452"/>
<ellipse cx="925.84" cy="574.75" rx="2.31" ry="3.24" fill="#1b8038"/>
<ellipse cx="913.12" cy="596.72" rx="1.85" ry="3.24" fill="#1b8038" opacity="0.8"/>
<ellipse cx="796.36" cy="640.65" rx="3.7" ry="1.85" fill="#1b8038" opacity="0.7"/>
<ellipse cx="833.35" cy="455.68" rx="2.31" ry="2.31" fill="#1b8038" opacity="0.9"/>
<path d="M814.86,503.08C816.2,504.04 821.6,507.89 822.95,508.86" fill="none" stroke="#30b452" stroke-width="2.77" stroke-linecap="round" stroke-linejoin="round" opacity="0.8"/>
<path d="M825.26,515.79C824.3,518.87 820.44,531.21 819.48,534.29" fill="none" stroke="#30b452" stroke-width="2.31" stroke-linecap="round" stroke-linejoin="round" opacity="0.8"/>
<path d="M821.79,564.35C821.98,566.27 822.76,573.98 822.95,575.91" fill="none" stroke="#30b452" stroke-width="2.77" stroke-linecap="round" stroke-linejoin="round" opacity="0.8"/>
<path d="M827.57,582.84C828.73,583.61 833.35,586.7 834.51,587.47" fill="none" stroke="#30b452" stroke-width="2.77" stroke-linecap="round" stroke-linejoin="round" opacity="0.8"/>
<path d="M828.73,611.75C830.27,615.41 836.44,630.05 837.98,633.71" fill="none" stroke="#30b452" stroke-width="1.85" stroke-linecap="round" stroke-linejoin="round" opacity="0.8"/>
<path d="M862.25,483.42C864.37,483.81 872.85,485.35 874.97,485.73" fill="none" stroke="#30b452" stroke-width="1.85" stroke-linecap="round" stroke-linejoin="round" opacity="0.8"/>
<path d="M791.73,482.27C793.28,485.16 799.44,496.72 800.98,499.61" fill="none" stroke="#30b452" stroke-width="2.31" stroke-linecap="round" stroke-linejoin="round" opacity="0.8"/>
<path d="M898.09,552.32C896.17,553.56 888.46,558.49 886.53,559.72" fill="none" stroke="#30b452" stroke-width="2.77" stroke-linecap="round" stroke-linejoin="round" opacity="0.8"/>
<path d="M905.03,446.43C906.18,447.58 910.81,452.21 911.97,453.36" fill="none" stroke="#30b452" stroke-width="2.31" stroke-linecap="round" stroke-linejoin="round" opacity="0.8"/>
<path d="M789.42,460.3C789.81,463.38 791.35,475.71 791.73,478.8" fill="none" stroke="#30b452" stroke-width="3.24" stroke-linecap="round" stroke-linejoin="round" opacity="0.8"/>
<path d="M757.05,510.01C757.44,512.13 758.98,520.61 759.36,522.73" fill="none" stroke="#30b452" stroke-width="1.85" stroke-linecap="round" stroke-linejoin="round" opacity="0.8"/></g></g>
<g clip-path="url(#cp8)"><g filter="url(#fhp8)"><path d="M1029.77,490.36C1030.93,487.28 1036.13,484.96 1040.18,485.73C1044.23,486.5 1050.58,491.13 1054.05,494.98C1057.52,498.84 1060.22,504.23 1060.99,508.86C1061.76,513.48 1060.99,518.87 1058.68,522.73C1056.36,526.58 1050.97,528.12 1047.12,531.98C1043.26,535.83 1039.02,542 1035.55,545.85C1032.09,549.7 1028.23,555.87 1026.31,555.1C1024.38,554.33 1023.22,546.62 1023.99,541.23C1024.76,535.83 1029.39,528.89 1030.93,522.73C1032.47,516.56 1033.44,509.63 1033.24,504.23C1033.05,498.84 1028.62,493.44 1029.77,490.36Z" fill="#0f4a22" opacity="0.6"/>
<path d="M1048.27,533.13C1050.16,529.59 1053.09,524.77 1057.52,522.27C1061.95,519.76 1069.66,518.18 1074.86,518.1C1080.06,518.03 1085.27,522.19 1088.73,521.8C1092.2,521.42 1092.9,516.18 1095.67,515.79C1098.45,515.41 1102.68,517.18 1105.38,519.49C1108.08,521.8 1111.16,525.85 1111.86,529.66C1112.55,533.48 1111.39,538.91 1109.54,542.38C1107.69,545.85 1104.23,549.32 1100.76,550.47C1097.29,551.63 1092.66,549.9 1088.73,549.32C1084.8,548.74 1080.45,546.62 1077.17,547.01C1073.9,547.39 1071.01,549.05 1069.08,551.63C1067.15,554.21 1065.81,558.45 1065.61,562.5C1065.42,566.54 1066.58,571.36 1067.92,575.91C1069.27,580.45 1071.59,585.93 1073.71,589.78C1075.82,593.63 1077.94,595.95 1080.64,599.03C1083.34,602.11 1086.81,605.58 1089.89,608.28C1092.97,610.97 1096.63,612.44 1099.14,615.21C1101.64,617.99 1105,622.03 1104.92,624.92C1104.84,627.82 1101.76,631.28 1098.68,632.55C1095.59,633.83 1090.47,632.94 1086.42,632.55C1082.38,632.17 1078.71,631.78 1074.4,630.24C1070.08,628.7 1064.84,626.2 1060.53,623.31C1056.21,620.42 1051.7,616.49 1048.5,612.9C1045.3,609.32 1042.14,606.04 1041.34,601.8C1040.53,597.56 1043.07,591.71 1043.65,587.47C1044.23,583.23 1045.38,579.65 1044.8,576.37C1044.23,573.09 1043.03,570.05 1040.18,567.82C1037.33,565.58 1030.16,565.08 1027.69,562.96C1025.23,560.84 1023.8,557.29 1025.38,555.1C1026.96,552.9 1033.71,551.71 1037.17,549.78C1040.64,547.85 1044.34,546.31 1046.19,543.54C1048.04,540.76 1046.38,536.68 1048.27,533.13Z" fill="#1b8038"/>
<path d="M1168.5,518.1C1168.27,515.6 1176.79,512.9 1181.22,512.32C1185.65,511.75 1190.39,512.67 1195.09,514.64C1199.79,516.6 1205.38,520.84 1209.43,524.12C1213.47,527.39 1218.1,530.59 1219.37,534.29C1220.64,537.99 1218.6,542.77 1217.06,546.31C1215.52,549.86 1212.82,553.25 1210.12,555.56C1207.42,557.87 1202.03,557.95 1200.87,560.18C1199.72,562.42 1202.41,565.58 1203.18,568.97C1203.96,572.36 1205.88,576.68 1205.5,580.53C1205.11,584.39 1200.49,588.24 1200.87,592.09C1201.26,595.95 1207.92,599.99 1207.81,603.65C1207.69,607.31 1203.15,613.6 1200.18,614.06C1197.21,614.52 1192.01,609.9 1190.01,606.43C1188,602.96 1189.54,594.4 1188.16,593.25C1186.77,592.09 1183.15,596.22 1181.68,599.49C1180.22,602.77 1180.6,609.7 1179.37,612.9C1178.14,616.1 1176.06,619.38 1174.28,618.68C1172.51,617.99 1169.27,612.79 1168.73,608.74C1168.19,604.69 1171.05,598.72 1171.05,594.4C1171.05,590.09 1170.24,585.85 1168.73,582.84C1167.23,579.84 1164.57,578.61 1162.03,576.37C1159.49,574.13 1154.05,572.67 1153.47,569.43C1152.9,566.2 1155.94,559.8 1158.56,556.95C1161.18,554.1 1165.5,554.25 1169.2,552.32C1172.9,550.4 1177.75,548.01 1180.76,545.39C1183.76,542.77 1186.92,539.61 1187.23,536.6C1187.54,533.6 1185.73,530.44 1182.61,527.35C1179.49,524.27 1168.73,520.61 1168.5,518.1Z" fill="#1b8038"/>
<path d="M1206.65,545.85C1209.16,541.61 1222.26,541.23 1227.46,543.54C1232.66,545.85 1236.71,553.56 1237.87,559.72C1239.02,565.89 1237.29,575.14 1234.4,580.53C1231.51,585.93 1224.76,590.94 1220.53,592.09C1216.29,593.25 1210.31,591.32 1208.97,587.47C1207.62,583.61 1212.82,575.91 1212.43,568.97C1212.05,562.03 1204.15,550.09 1206.65,545.85Z" fill="#0f4a22" opacity="0.55"/>
<path d="M1169.66,513.48C1171.2,511.17 1180.83,508.86 1185.84,508.86C1190.85,508.86 1198.18,511.17 1199.72,513.48C1201.26,515.79 1198.95,521.19 1195.09,522.73C1191.24,524.27 1180.83,524.27 1176.6,522.73C1172.36,521.19 1168.12,515.79 1169.66,513.48Z" fill="#0f4a22" opacity="0.8"/>
<path d="M1078.33,430.24C1079.1,429.09 1083.72,428.7 1086.42,429.09C1089.12,429.47 1092.2,432.55 1094.51,432.55C1096.83,432.55 1099.14,427.93 1100.29,429.09C1101.45,430.24 1102.22,436.99 1101.45,439.49C1100.68,442 1097.79,443.73 1095.67,444.12C1093.55,444.5 1091.05,443.15 1088.73,441.8C1086.42,440.45 1083.53,437.95 1081.8,436.02C1080.06,434.1 1077.56,431.4 1078.33,430.24Z" fill="#6a1414"/></g><g filter="url(#frp8)"><path d="M1158.56,436.49C1158.48,434.64 1160.87,432.25 1162.72,431.86C1164.57,431.48 1167.73,434.17 1169.66,434.17C1171.59,434.17 1172.82,430.59 1174.28,431.86C1175.75,433.13 1176.44,439.18 1178.45,441.8C1180.45,444.42 1185.38,445.73 1186.31,447.58C1187.23,449.43 1186,451.44 1183.99,452.9C1181.99,454.37 1177.56,456.18 1174.28,456.37C1171.01,456.56 1166.77,455.14 1164.34,454.06C1161.91,452.98 1159.91,451.75 1159.72,449.9C1159.52,448.05 1163.38,445.19 1163.18,442.96C1162.99,440.72 1158.64,438.34 1158.56,436.49Z" fill="#f22428" stroke="#c01c20" stroke-width="1.5" stroke-linejoin="round" opacity="0.85"/>
<path d="M1162.72,444.12C1163.96,442.38 1168.5,442.19 1171.97,442.96C1175.44,443.73 1181.8,447.01 1183.53,448.74C1185.27,450.47 1184.11,452.13 1182.38,453.36C1180.64,454.6 1176.09,456.14 1173.13,456.14C1170.16,456.14 1166.31,455.37 1164.57,453.36C1162.84,451.36 1161.49,445.85 1162.72,444.12Z" fill="#6a1414" opacity="0.6"/>
<ellipse cx="1170.82" cy="425.16" rx="1.16" ry="2.31" fill="#b81c1e" opacity="0.8"/>
<path d="M1078.79,430.71C1079.49,429.63 1083.8,429.16 1086.42,429.55C1089.04,429.93 1092.28,433.02 1094.51,433.02C1096.75,433.02 1098.75,428.55 1099.83,429.55C1100.91,430.55 1101.68,436.68 1100.99,439.03C1100.29,441.38 1097.71,443.27 1095.67,443.65C1093.63,444.04 1090.97,442.61 1088.73,441.34C1086.5,440.07 1083.92,437.8 1082.26,436.02C1080.6,434.25 1078.1,431.78 1078.79,430.71Z" fill="#b81c1e" opacity="0.75"/>
<path d="M1092.66,448.05C1092.97,446.08 1096.21,445.23 1097.98,445.73C1099.76,446.24 1102.8,449.09 1103.3,451.05C1103.8,453.02 1102.18,456.45 1100.99,457.53C1099.79,458.61 1097.52,459.11 1096.13,457.53C1094.75,455.95 1092.36,450.01 1092.66,448.05Z" fill="#30b452" stroke="#1c9a44" stroke-width="1.5" stroke-linejoin="round"/>
<ellipse cx="1078.33" cy="448.05" rx="3.7" ry="1.85" fill="#30b452" opacity="0.9"/>
<circle cx="1093.82" cy="446.89" r="2.31" fill="#a8d040" opacity="0.7"/>
<path d="M1061.45,477.64C1061.76,474.64 1064.34,469.93 1066.77,467.7C1069.2,465.46 1073.13,463.85 1076.02,464.23C1078.91,464.62 1081.61,467.58 1084.11,470.01C1086.61,472.44 1088.04,476.18 1091.05,478.8C1094.05,481.42 1099.14,483.23 1102.14,485.73C1105.15,488.24 1108.7,491.59 1109.08,493.83C1109.47,496.06 1107.08,498.07 1104.46,499.14C1101.84,500.22 1097.13,500.69 1093.36,500.3C1089.58,499.92 1085.38,498.18 1081.8,496.83C1078.21,495.48 1074.67,494.06 1071.86,492.21C1069.04,490.36 1066.65,488.16 1064.92,485.73C1063.18,483.31 1061.14,480.65 1061.45,477.64Z" fill="#30b452" stroke="#1c9a44" stroke-width="1.5" stroke-linejoin="round"/>
<path d="M1065.15,478.8C1065.54,476.49 1067.15,472.55 1069.08,470.71C1071.01,468.86 1074.4,467.31 1076.71,467.7C1079.02,468.08 1080.95,470.78 1082.95,473.02C1084.96,475.25 1086.61,478.8 1088.73,481.11C1090.85,483.42 1095.29,484.77 1095.67,486.89C1096.06,489.01 1093.36,492.86 1091.05,493.83C1088.73,494.79 1084.88,493.44 1081.8,492.67C1078.71,491.9 1075.05,490.55 1072.55,489.2C1070.04,487.85 1068,486.31 1066.77,484.58C1065.54,482.84 1064.76,481.11 1065.15,478.8Z" fill="#a8d040"/>
<path d="M1067.92,478.8C1068.31,476.87 1069.77,473.33 1071.39,471.86C1073.01,470.4 1075.9,469.43 1077.64,470.01C1079.37,470.59 1080.53,473.09 1081.8,475.33C1083.07,477.56 1085.46,481.11 1085.27,483.42C1085.07,485.73 1082.57,488.62 1080.64,489.2C1078.71,489.78 1075.63,487.85 1073.71,486.89C1071.78,485.93 1070.04,484.77 1069.08,483.42C1068.12,482.07 1067.54,480.72 1067.92,478.8Z" fill="#e6e234" opacity="0.95"/>
<path d="M1126.19,489.66C1126.38,487.82 1129.66,491.28 1131.51,493.13C1133.36,494.98 1134.4,499.8 1137.29,500.76C1140.18,501.73 1145.27,499.8 1148.85,498.91C1152.43,498.03 1157.64,495.02 1158.79,495.45C1159.95,495.87 1157.83,499.49 1155.79,501.46C1153.74,503.42 1149.24,505.12 1146.54,507.24C1143.84,509.36 1142.3,512.05 1139.6,514.17C1136.9,516.29 1132.97,519.18 1130.35,519.95C1127.73,520.72 1124.57,520.26 1123.88,518.8C1123.18,517.33 1125.11,513.6 1126.19,511.17C1127.27,508.74 1130.35,507.82 1130.35,504.23C1130.35,500.65 1126,491.51 1126.19,489.66Z" fill="#5fc04c" stroke="#22a846" stroke-width="2.6" stroke-linejoin="round"/>
<path d="M1123.42,520.42C1121.68,520.99 1114.75,523.31 1113.01,523.88" fill="none" stroke="#1b8038" stroke-width="1.39" stroke-linecap="round" stroke-linejoin="round"/>
<path d="M1049.89,532.44C1051.82,529.01 1054.51,525.5 1058.68,523.42C1062.84,521.34 1069.85,519.99 1074.86,519.95C1079.87,519.92 1085.27,523.58 1088.73,523.19C1092.2,522.81 1093.05,518.03 1095.67,517.64C1098.29,517.26 1102.03,518.87 1104.46,520.88C1106.88,522.88 1109.66,526.27 1110.24,529.66C1110.82,533.06 1109.58,538.03 1107.92,541.23C1106.27,544.42 1103.49,547.78 1100.29,548.86C1097.1,549.93 1092.59,548.28 1088.73,547.7C1084.88,547.12 1080.64,545 1077.17,545.39C1073.71,545.77 1070.04,547.24 1067.92,550.01C1065.81,552.79 1064.65,557.72 1064.46,562.03C1064.26,566.35 1065.42,571.28 1066.77,575.91C1068.12,580.53 1070.43,585.93 1072.55,589.78C1074.67,593.63 1076.79,596.02 1079.49,599.03C1082.18,602.03 1085.65,605.19 1088.73,607.82C1091.82,610.44 1095.55,611.98 1097.98,614.75C1100.41,617.53 1103.3,621.76 1103.3,624.46C1103.3,627.16 1100.8,629.86 1097.98,630.94C1095.17,632.02 1090.28,631.32 1086.42,630.94C1082.57,630.55 1079.02,630.17 1074.86,628.62C1070.7,627.08 1065.61,624.58 1061.45,621.69C1057.29,618.8 1052.97,614.67 1049.89,611.28C1046.81,607.89 1043.72,605.31 1042.95,601.34C1042.18,597.37 1044.69,591.71 1045.27,587.47C1045.84,583.23 1047,579.38 1046.42,575.91C1045.84,572.44 1044.69,568.97 1041.8,566.66C1038.91,564.35 1031.59,563.88 1029.08,562.03C1026.58,560.18 1025.3,557.41 1026.77,555.56C1028.23,553.71 1034.48,552.86 1037.87,550.94C1041.26,549.01 1045.11,547.08 1047.12,544C1049.12,540.92 1047.96,535.87 1049.89,532.44Z" fill="#30b452" stroke="#1c9a44" stroke-width="1.5" stroke-linejoin="round"/>
<path d="M1055.21,534.29C1058.21,531.01 1061.95,529.66 1065.61,528.51C1069.27,527.35 1074.09,526.39 1077.17,527.35C1080.26,528.32 1084.5,531.98 1084.11,534.29C1083.72,536.6 1078.14,539.3 1074.86,541.23C1071.59,543.15 1066.96,542.77 1064.46,545.85C1061.95,548.93 1060.41,554.71 1059.83,559.72C1059.25,564.73 1059.83,570.51 1060.99,575.91C1062.14,581.3 1064.26,587.47 1066.77,592.09C1069.27,596.72 1072.74,600.18 1076.02,603.65C1079.29,607.12 1083.53,609.82 1086.42,612.9C1089.31,615.98 1093.36,619.84 1093.36,622.15C1093.36,624.46 1089.5,626.39 1086.42,626.77C1083.34,627.16 1078.71,626 1074.86,624.46C1071.01,622.92 1066.77,620.61 1063.3,617.53C1059.83,614.44 1056.36,610.2 1054.05,605.97C1051.74,601.73 1049.81,597.1 1049.43,592.09C1049.04,587.08 1051.74,580.92 1051.74,575.91C1051.74,570.9 1050.12,566.66 1049.43,562.03C1048.73,557.41 1046.61,552.79 1047.58,548.16C1048.54,543.54 1052.2,537.56 1055.21,534.29Z" fill="#5fc04c" stroke="#22a846" stroke-width="2.6" stroke-linejoin="round" opacity="0.7"/>
<path d="M1088.73,528.51C1090.08,526.2 1093.17,523.31 1095.67,522.73C1098.18,522.15 1102.03,523.11 1103.76,525.04C1105.5,526.97 1106.46,531.21 1106.08,534.29C1105.69,537.37 1103.76,542 1101.45,543.54C1099.14,545.08 1094.51,544.69 1092.2,543.54C1089.89,542.38 1088.16,539.11 1087.58,536.6C1087,534.1 1087.39,530.82 1088.73,528.51Z" fill="#5fc04c" stroke="#22a846" stroke-width="2.6" stroke-linejoin="round" opacity="0.6"/>
<path d="M1054.05,605.97C1055.21,604.04 1060.6,602.5 1063.3,603.65C1066,604.81 1069.85,610.2 1070.24,612.9C1070.62,615.6 1067.92,619.45 1065.61,619.84C1063.3,620.22 1058.29,617.53 1056.36,615.21C1054.44,612.9 1052.9,607.89 1054.05,605.97Z" fill="#a8d040" opacity="0.6"/>
<ellipse cx="1079.49" cy="595.56" rx="4.62" ry="2.31" fill="#000000" opacity="0.7"/>
<ellipse cx="1086.88" cy="594.87" rx="2.31" ry="1.39" fill="#30b452" opacity="0.9"/>
<path d="M1183.53,531.98C1184.76,530.24 1191.05,527.35 1195.09,527.35C1199.14,527.35 1204.53,529.66 1207.81,531.98C1211.08,534.29 1214.36,537.76 1214.75,541.23C1215.13,544.69 1212.63,549.9 1210.12,552.79C1207.62,555.68 1201.26,555.87 1199.72,558.57C1198.18,561.26 1200.18,565.31 1200.87,568.97C1201.57,572.63 1204.15,576.87 1203.88,580.53C1203.61,584.19 1199.18,587.28 1199.25,590.94C1199.33,594.6 1204.34,599.22 1204.34,602.5C1204.34,605.77 1201.37,610.2 1199.25,610.59C1197.13,610.97 1193.28,607.89 1191.62,604.81C1189.97,601.73 1190.85,593.25 1189.31,592.09C1187.77,590.94 1184.03,594.6 1182.38,597.87C1180.72,601.15 1180.64,608.66 1179.37,611.75C1178.1,614.83 1176.17,616.95 1174.75,616.37C1173.32,615.79 1171.16,611.94 1170.82,608.28C1170.47,604.62 1172.78,598.64 1172.66,594.4C1172.55,590.17 1171.7,586 1170.12,582.84C1168.54,579.68 1165.57,577.76 1163.18,575.45C1160.8,573.13 1156.33,571.9 1155.79,568.97C1155.25,566.04 1157.56,560.49 1159.95,557.87C1162.34,555.25 1166.58,555.18 1170.12,553.25C1173.67,551.32 1178.29,548.89 1181.22,546.31C1184.15,543.73 1187.31,540.15 1187.69,537.76C1188.08,535.37 1182.3,533.71 1183.53,531.98Z" fill="#30b452" stroke="#1c9a44" stroke-width="1.5" stroke-linejoin="round"/>
<path d="M1169.66,556.25C1172.74,554.13 1177.75,551.82 1181.22,549.32C1184.69,546.81 1187,543.15 1190.47,541.23C1193.94,539.3 1198.95,536.99 1202.03,537.76C1205.11,538.53 1208.97,542.96 1208.97,545.85C1208.97,548.74 1204.73,552.79 1202.03,555.1C1199.33,557.41 1194.71,557.03 1192.78,559.72C1190.85,562.42 1192.01,567.82 1190.47,571.28C1188.93,574.75 1186.23,579.38 1183.53,580.53C1180.83,581.69 1177.37,579.76 1174.28,578.22C1171.2,576.68 1166.96,573.98 1165.03,571.28C1163.11,568.59 1161.95,564.54 1162.72,562.03C1163.49,559.53 1166.58,558.37 1169.66,556.25Z" fill="#5fc04c" stroke="#22a846" stroke-width="2.6" stroke-linejoin="round" opacity="0.7"/>
<path d="M1185.84,545.85C1187,543.92 1192.39,541.23 1195.09,541.23C1197.79,541.23 1202.03,543.92 1202.03,545.85C1202.03,547.78 1197.4,551.63 1195.09,552.79C1192.78,553.94 1189.7,553.94 1188.16,552.79C1186.61,551.63 1184.69,547.78 1185.84,545.85Z" fill="#a8d040" opacity="0.5"/>
<ellipse cx="1175.44" cy="605.97" rx="4.16" ry="8.32" fill="#5fc04c" opacity="0.8"/>
<ellipse cx="1197.4" cy="599.03" rx="5.09" ry="9.25" fill="#5fc04c" opacity="0.7"/>
<circle cx="1236.71" cy="574.75" r="2.08" fill="#30b452"/>
<ellipse cx="1183.53" cy="543.54" rx="2.31" ry="3.24" fill="#6a1414" opacity="0.8"/>
<circle cx="1196.25" cy="503.08" r="1.85" fill="#1b8038"/>
<circle cx="1074.86" cy="638.34" r="1.39" fill="#6a1414"/></g></g>
<ellipse cx="184.65" cy="209.2" rx="115.8" ry="131.65" fill="none" stroke="#fff" stroke-width="3.9" stroke-dasharray="13.6 9.4" stroke-dashoffset="6"/>
<ellipse cx="480.15" cy="209.3" rx="115.6" ry="131.75" fill="none" stroke="#fff" stroke-width="3.9" stroke-dasharray="13.6 9.4" stroke-dashoffset="6"/>
<ellipse cx="828.85" cy="209.3" rx="115.8" ry="131.75" fill="none" stroke="#fff" stroke-width="3.9" stroke-dasharray="13.6 9.4" stroke-dashoffset="6"/>
<ellipse cx="1124.2" cy="209.65" rx="115.55" ry="132.1" fill="none" stroke="#fff" stroke-width="3.9" stroke-dasharray="13.6 9.4" stroke-dashoffset="6"/>
<ellipse cx="190.45" cy="530" rx="115.8" ry="131.75" fill="none" stroke="#fff" stroke-width="3.9" stroke-dasharray="13.6 9.4" stroke-dashoffset="6"/>
<ellipse cx="483.5" cy="530" rx="115.45" ry="131.75" fill="none" stroke="#fff" stroke-width="3.9" stroke-dasharray="13.6 9.4" stroke-dashoffset="6"/>
<ellipse cx="834.65" cy="530" rx="115.8" ry="131.75" fill="none" stroke="#fff" stroke-width="3.9" stroke-dasharray="13.6 9.4" stroke-dashoffset="6"/>
<ellipse cx="1127.2" cy="530" rx="115.55" ry="131.75" fill="none" stroke="#fff" stroke-width="3.9" stroke-dasharray="13.6 9.4" stroke-dashoffset="6"/>
<rect x="252.9" y="332.6" width="56" height="3.8" fill="#fff"/>
<rect x="54.6" y="357" width="268.4" height="1.2" fill="#777"/>
<rect x="698.7" y="356.8" width="26.3" height="1.2" fill="#777"/>
<rect x="951" y="356.8" width="15.7" height="1.2" fill="#777"/>
<rect x="321.6" y="384" width="1.2" height="292.5" fill="#999"/>
<g opacity="0.999">
<text x="78.3" y="53.6" font-size="31.2" font-weight="bold" fill="#12890f" text-anchor="start">Glu</text>
<text x="207.8" y="53.6" font-size="31.2" font-weight="bold" fill="#e6321e" text-anchor="start">GABA</text>
<text x="364.6" y="53.6" font-size="31.2" font-weight="bold" fill="#12890f" text-anchor="start">ChAT</text>
<text x="532.8" y="53.6" font-size="31.2" font-weight="bold" fill="#e6321e" text-anchor="start">Gly</text>
<text x="722.2" y="53.6" font-size="31.2" font-weight="bold" fill="#12890f" text-anchor="start">Glu</text>
<text x="850.8" y="53.6" font-size="31.2" font-weight="bold" fill="#e6321e" text-anchor="start">GABA</text>
<text x="1013.9" y="53.6" font-size="31.2" font-weight="bold" fill="#12890f" text-anchor="start">ChAT</text>
<text x="1182.2" y="53.6" font-size="31.2" font-weight="bold" fill="#e6321e" text-anchor="start">Gly</text>
<text x="0.6" y="33.8" font-size="47.5" font-weight="bold" fill="#000" text-anchor="start">A</text>
<text x="641.4" y="33.4" font-size="47.5" font-weight="bold" fill="#000" text-anchor="start">B</text>
<text x="0.4" y="763.6" font-size="46.5" font-weight="bold" fill="#000" text-anchor="start">C</text>
<text transform="translate(39.2,218) rotate(-90)" font-size="27" font-weight="bold" text-anchor="middle">Control MO</text>
<text letter-spacing="-0.45" transform="translate(36,528.2) rotate(-90)" font-size="27.8" font-weight="bold" text-anchor="middle"><tspan font-style="italic">GAD</tspan> MOs</text>
<text transform="translate(679.4,215.1) rotate(-90)" font-size="27" font-weight="bold" text-anchor="middle">GABAR antagonists</text>
<text transform="translate(679.2,528.8) rotate(-90)" font-size="27" font-weight="bold" text-anchor="middle">GluR antagonists</text>
<rect x="140.6" y="816" width="2.1" height="405.5" fill="#000"/>
<rect x="133" y="824.2" width="8" height="2.2" fill="#000"/>
<text x="125.8" y="836.2" font-size="28" font-weight="normal" fill="#000" text-anchor="end">50</text>
<rect x="133" y="902.1" width="8" height="2.2" fill="#000"/>
<text x="125.8" y="914.1" font-size="28" font-weight="normal" fill="#000" text-anchor="end">40</text>
<rect x="133" y="980" width="8" height="2.2" fill="#000"/>
<text x="125.8" y="992" font-size="28" font-weight="normal" fill="#000" text-anchor="end">30</text>
<rect x="133" y="1057.9" width="8" height="2.2" fill="#000"/>
<text x="125.8" y="1069.9" font-size="28" font-weight="normal" fill="#000" text-anchor="end">20</text>
<rect x="133" y="1135.9" width="8" height="2.2" fill="#000"/>
<text x="125.8" y="1147.9" font-size="28" font-weight="normal" fill="#000" text-anchor="end">10</text>
<rect x="133" y="1213.8" width="8" height="2.2" fill="#000"/>
<text x="125.8" y="1225.8" font-size="28" font-weight="normal" fill="#000" text-anchor="end">0</text>
<rect x="140.6" y="1211.2" width="1097.4" height="4.5" fill="#000"/>
<rect x="408.9" y="1213" width="2.2" height="9.3" fill="#000"/>
<rect x="688.9" y="1213" width="2.2" height="9.3" fill="#000"/>
<rect x="966.6" y="1213" width="2.2" height="9.3" fill="#000"/>
<rect x="1238.9" y="1213" width="2.2" height="9.3" fill="#000"/>
<rect x="169.4" y="993.2" width="3.8" height="7.5" fill="#000"/>
<rect x="162.9" y="991.1" width="16.8" height="4.2" fill="#000"/>
<rect x="146.5" y="999.7" width="49.7" height="216" fill="#000"/>
<rect x="151.4" y="1004.6" width="39.9" height="206.2" fill="#646464"/>
<rect x="221" y="960.7" width="3.8" height="18" fill="#000"/>
<rect x="214.5" y="958.6" width="16.8" height="4.2" fill="#000"/>
<rect x="199" y="977.7" width="49.6" height="238" fill="#000"/>
<rect x="203.9" y="982.6" width="39.8" height="228.2" fill="url(#phatch)"/>
<rect x="270.5" y="1124.4" width="3.8" height="9.5" fill="#000"/>
<rect x="264" y="1122.3" width="16.8" height="4.2" fill="#000"/>
<rect x="250.9" y="1132.9" width="45.7" height="82.8" fill="#000"/>
<rect x="255.8" y="1137.8" width="35.9" height="73" fill="url(#pdotw)"/>
<rect x="319.9" y="1121" width="3.8" height="6.4" fill="#000"/>
<rect x="313.4" y="1118.9" width="16.8" height="4.2" fill="#000"/>
<rect x="300.3" y="1126.4" width="48.1" height="89.3" fill="#000"/>
<rect x="305.2" y="1131.3" width="38.3" height="79.5" fill="url(#ptrel)"/>
<rect x="371.2" y="1089.4" width="3.8" height="13.9" fill="#000"/>
<rect x="364.7" y="1087.3" width="16.8" height="4.2" fill="#000"/>
<rect x="351.5" y="1102.3" width="45.8" height="113.4" fill="#000"/>
<rect x="356.4" y="1107.2" width="36" height="103.6" fill="url(#pdotg)"/>
<rect x="447.3" y="834" width="3.8" height="4.9" fill="#000"/>
<rect x="440.8" y="831.9" width="16.8" height="4.2" fill="#000"/>
<rect x="422.4" y="837.9" width="50.9" height="377.8" fill="#000"/>
<rect x="427.3" y="842.8" width="41.1" height="368" fill="#646464"/>
<rect x="498.4" y="858.8" width="3.8" height="8.7" fill="#000"/>
<rect x="491.9" y="856.7" width="16.8" height="4.2" fill="#000"/>
<rect x="476.3" y="866.5" width="49.8" height="349.2" fill="#000"/>
<rect x="481.2" y="871.4" width="40" height="339.4" fill="url(#phatch)"/>
<rect x="548.7" y="984.4" width="3.8" height="17" fill="#000"/>
<rect x="542.2" y="982.3" width="16.8" height="4.2" fill="#000"/>
<rect x="528" y="1000.4" width="46.2" height="215.3" fill="#000"/>
<rect x="532.9" y="1005.3" width="36.4" height="205.5" fill="url(#pdotw)"/>
<rect x="597.2" y="1026.3" width="3.8" height="6.7" fill="#000"/>
<rect x="590.7" y="1024.2" width="16.8" height="4.2" fill="#000"/>
<rect x="576.3" y="1032" width="47.7" height="183.7" fill="#000"/>
<rect x="581.2" y="1036.9" width="37.9" height="173.9" fill="url(#ptrel)"/>
<rect x="646.4" y="902.7" width="3.8" height="21.1" fill="#000"/>
<rect x="639.9" y="900.6" width="16.8" height="4.2" fill="#000"/>
<rect x="627" y="922.8" width="45.8" height="292.9" fill="#000"/>
<rect x="631.9" y="927.7" width="36" height="283.1" fill="url(#pdotg)"/>
<rect x="728.1" y="1129.8" width="3.8" height="3.5" fill="#000"/>
<rect x="721.6" y="1127.7" width="16.8" height="4.2" fill="#000"/>
<rect x="705" y="1132.3" width="47.2" height="83.4" fill="#000"/>
<rect x="709.9" y="1137.2" width="37.4" height="73.6" fill="#646464"/>
<rect x="775.6" y="1146.2" width="3.8" height="2.3" fill="#000"/>
<rect x="769.1" y="1144.1" width="16.8" height="4.2" fill="#000"/>
<rect x="754.2" y="1147.5" width="48.5" height="68.2" fill="#000"/>
<rect x="759.1" y="1152.4" width="38.7" height="58.4" fill="url(#phatch)"/>
<rect x="826.9" y="910.4" width="3.8" height="29.4" fill="#000"/>
<rect x="820.4" y="908.3" width="16.8" height="4.2" fill="#000"/>
<rect x="805.5" y="938.8" width="46.1" height="276.9" fill="#000"/>
<rect x="810.4" y="943.7" width="36.3" height="267.1" fill="url(#pdotw)"/>
<rect x="877.9" y="988" width="3.8" height="21.2" fill="#000"/>
<rect x="871.4" y="985.9" width="16.8" height="4.2" fill="#000"/>
<rect x="855.4" y="1008.2" width="48.3" height="207.5" fill="#000"/>
<rect x="860.3" y="1013.1" width="38.5" height="197.7" fill="url(#ptrel)"/>
<rect x="926.9" y="976.8" width="3.8" height="41.5" fill="#000"/>
<rect x="920.4" y="974.7" width="16.8" height="4.2" fill="#000"/>
<rect x="906.7" y="1017.3" width="46.6" height="198.4" fill="#000"/>
<rect x="911.6" y="1022.2" width="36.8" height="188.6" fill="url(#pdotg)"/>
<rect x="1008.3" y="995.1" width="3.8" height="13.8" fill="#000"/>
<rect x="1001.8" y="993" width="16.8" height="4.2" fill="#000"/>
<rect x="984" y="1007.9" width="48.8" height="207.8" fill="#000"/>
<rect x="988.9" y="1012.8" width="39" height="198" fill="#646464"/>
<rect x="1059.1" y="1006" width="3.8" height="2.9" fill="#000"/>
<rect x="1052.6" y="1003.9" width="16.8" height="4.2" fill="#000"/>
<rect x="1036" y="1007.9" width="46.3" height="207.8" fill="#000"/>
<rect x="1040.9" y="1012.8" width="36.5" height="198" fill="url(#phatch)"/>
<rect x="1107.8" y="921.9" width="3.8" height="18" fill="#000"/>
<rect x="1101.3" y="919.8" width="16.8" height="4.2" fill="#000"/>
<rect x="1085.3" y="938.9" width="48.2" height="276.8" fill="#000"/>
<rect x="1090.2" y="943.8" width="38.4" height="267" fill="url(#pdotw)"/>
<rect x="1158" y="960" width="3.8" height="19.1" fill="#000"/>
<rect x="1151.5" y="957.9" width="16.8" height="4.2" fill="#000"/>
<rect x="1136.4" y="978.1" width="46.4" height="237.6" fill="#000"/>
<rect x="1141.3" y="983" width="36.6" height="227.8" fill="url(#ptrel)"/>
<rect x="1208.9" y="922.4" width="3.8" height="25.7" fill="#000"/>
<rect x="1202.4" y="920.3" width="16.8" height="4.2" fill="#000"/>
<rect x="1185.5" y="947.1" width="48.8" height="268.6" fill="#000"/>
<rect x="1190.4" y="952" width="39" height="258.8" fill="url(#pdotg)"/>
<g transform="translate(271.9,1106.5)" fill="#000"><path d="M-0.45,0 L-1.75,-7.85 A1.75,1.75 0 1 1 1.75,-7.85 L0.45,0 Z" transform="rotate(0)"/><path d="M-0.45,0 L-1.75,-7.85 A1.75,1.75 0 1 1 1.75,-7.85 L0.45,0 Z" transform="rotate(60)"/><path d="M-0.45,0 L-1.75,-7.85 A1.75,1.75 0 1 1 1.75,-7.85 L0.45,0 Z" transform="rotate(120)"/><path d="M-0.45,0 L-1.75,-7.85 A1.75,1.75 0 1 1 1.75,-7.85 L0.45,0 Z" transform="rotate(180)"/><path d="M-0.45,0 L-1.75,-7.85 A1.75,1.75 0 1 1 1.75,-7.85 L0.45,0 Z" transform="rotate(240)"/><path d="M-0.45,0 L-1.75,-7.85 A1.75,1.75 0 1 1 1.75,-7.85 L0.45,0 Z" transform="rotate(300)"/><circle r="1.3"/></g>
<g transform="translate(322.7,1104.3)" fill="#000"><path d="M-0.45,0 L-1.75,-7.85 A1.75,1.75 0 1 1 1.75,-7.85 L0.45,0 Z" transform="rotate(0)"/><path d="M-0.45,0 L-1.75,-7.85 A1.75,1.75 0 1 1 1.75,-7.85 L0.45,0 Z" transform="rotate(60)"/><path d="M-0.45,0 L-1.75,-7.85 A1.75,1.75 0 1 1 1.75,-7.85 L0.45,0 Z" transform="rotate(120)"/><path d="M-0.45,0 L-1.75,-7.85 A1.75,1.75 0 1 1 1.75,-7.85 L0.45,0 Z" transform="rotate(180)"/><path d="M-0.45,0 L-1.75,-7.85 A1.75,1.75 0 1 1 1.75,-7.85 L0.45,0 Z" transform="rotate(240)"/><path d="M-0.45,0 L-1.75,-7.85 A1.75,1.75 0 1 1 1.75,-7.85 L0.45,0 Z" transform="rotate(300)"/><circle r="1.3"/></g>
<g transform="translate(373.1,1072.2)" fill="#000"><path d="M-0.45,0 L-1.75,-7.85 A1.75,1.75 0 1 1 1.75,-7.85 L0.45,0 Z" transform="rotate(0)"/><path d="M-0.45,0 L-1.75,-7.85 A1.75,1.75 0 1 1 1.75,-7.85 L0.45,0 Z" transform="rotate(60)"/><path d="M-0.45,0 L-1.75,-7.85 A1.75,1.75 0 1 1 1.75,-7.85 L0.45,0 Z" transform="rotate(120)"/><path d="M-0.45,0 L-1.75,-7.85 A1.75,1.75 0 1 1 1.75,-7.85 L0.45,0 Z" transform="rotate(180)"/><path d="M-0.45,0 L-1.75,-7.85 A1.75,1.75 0 1 1 1.75,-7.85 L0.45,0 Z" transform="rotate(240)"/><path d="M-0.45,0 L-1.75,-7.85 A1.75,1.75 0 1 1 1.75,-7.85 L0.45,0 Z" transform="rotate(300)"/><circle r="1.3"/></g>
<g transform="translate(549.2,966.8)" fill="#000"><path d="M-0.45,0 L-1.75,-7.85 A1.75,1.75 0 1 1 1.75,-7.85 L0.45,0 Z" transform="rotate(0)"/><path d="M-0.45,0 L-1.75,-7.85 A1.75,1.75 0 1 1 1.75,-7.85 L0.45,0 Z" transform="rotate(60)"/><path d="M-0.45,0 L-1.75,-7.85 A1.75,1.75 0 1 1 1.75,-7.85 L0.45,0 Z" transform="rotate(120)"/><path d="M-0.45,0 L-1.75,-7.85 A1.75,1.75 0 1 1 1.75,-7.85 L0.45,0 Z" transform="rotate(180)"/><path d="M-0.45,0 L-1.75,-7.85 A1.75,1.75 0 1 1 1.75,-7.85 L0.45,0 Z" transform="rotate(240)"/><path d="M-0.45,0 L-1.75,-7.85 A1.75,1.75 0 1 1 1.75,-7.85 L0.45,0 Z" transform="rotate(300)"/><circle r="1.3"/></g>
<g transform="translate(597.3,1008.7)" fill="#000"><path d="M-0.45,0 L-1.75,-7.85 A1.75,1.75 0 1 1 1.75,-7.85 L0.45,0 Z" transform="rotate(0)"/><path d="M-0.45,0 L-1.75,-7.85 A1.75,1.75 0 1 1 1.75,-7.85 L0.45,0 Z" transform="rotate(60)"/><path d="M-0.45,0 L-1.75,-7.85 A1.75,1.75 0 1 1 1.75,-7.85 L0.45,0 Z" transform="rotate(120)"/><path d="M-0.45,0 L-1.75,-7.85 A1.75,1.75 0 1 1 1.75,-7.85 L0.45,0 Z" transform="rotate(180)"/><path d="M-0.45,0 L-1.75,-7.85 A1.75,1.75 0 1 1 1.75,-7.85 L0.45,0 Z" transform="rotate(240)"/><path d="M-0.45,0 L-1.75,-7.85 A1.75,1.75 0 1 1 1.75,-7.85 L0.45,0 Z" transform="rotate(300)"/><circle r="1.3"/></g>
<g transform="translate(649,885.5)" fill="#000"><path d="M-0.45,0 L-1.75,-7.85 A1.75,1.75 0 1 1 1.75,-7.85 L0.45,0 Z" transform="rotate(0)"/><path d="M-0.45,0 L-1.75,-7.85 A1.75,1.75 0 1 1 1.75,-7.85 L0.45,0 Z" transform="rotate(60)"/><path d="M-0.45,0 L-1.75,-7.85 A1.75,1.75 0 1 1 1.75,-7.85 L0.45,0 Z" transform="rotate(120)"/><path d="M-0.45,0 L-1.75,-7.85 A1.75,1.75 0 1 1 1.75,-7.85 L0.45,0 Z" transform="rotate(180)"/><path d="M-0.45,0 L-1.75,-7.85 A1.75,1.75 0 1 1 1.75,-7.85 L0.45,0 Z" transform="rotate(240)"/><path d="M-0.45,0 L-1.75,-7.85 A1.75,1.75 0 1 1 1.75,-7.85 L0.45,0 Z" transform="rotate(300)"/><circle r="1.3"/></g>
<g transform="translate(829.2,893.3)" fill="#000"><path d="M-0.45,0 L-1.75,-7.85 A1.75,1.75 0 1 1 1.75,-7.85 L0.45,0 Z" transform="rotate(0)"/><path d="M-0.45,0 L-1.75,-7.85 A1.75,1.75 0 1 1 1.75,-7.85 L0.45,0 Z" transform="rotate(60)"/><path d="M-0.45,0 L-1.75,-7.85 A1.75,1.75 0 1 1 1.75,-7.85 L0.45,0 Z" transform="rotate(120)"/><path d="M-0.45,0 L-1.75,-7.85 A1.75,1.75 0 1 1 1.75,-7.85 L0.45,0 Z" transform="rotate(180)"/><path d="M-0.45,0 L-1.75,-7.85 A1.75,1.75 0 1 1 1.75,-7.85 L0.45,0 Z" transform="rotate(240)"/><path d="M-0.45,0 L-1.75,-7.85 A1.75,1.75 0 1 1 1.75,-7.85 L0.45,0 Z" transform="rotate(300)"/><circle r="1.3"/></g>
<g transform="translate(876.4,969.7)" fill="#000"><path d="M-0.45,0 L-1.75,-7.85 A1.75,1.75 0 1 1 1.75,-7.85 L0.45,0 Z" transform="rotate(0)"/><path d="M-0.45,0 L-1.75,-7.85 A1.75,1.75 0 1 1 1.75,-7.85 L0.45,0 Z" transform="rotate(60)"/><path d="M-0.45,0 L-1.75,-7.85 A1.75,1.75 0 1 1 1.75,-7.85 L0.45,0 Z" transform="rotate(120)"/><path d="M-0.45,0 L-1.75,-7.85 A1.75,1.75 0 1 1 1.75,-7.85 L0.45,0 Z" transform="rotate(180)"/><path d="M-0.45,0 L-1.75,-7.85 A1.75,1.75 0 1 1 1.75,-7.85 L0.45,0 Z" transform="rotate(240)"/><path d="M-0.45,0 L-1.75,-7.85 A1.75,1.75 0 1 1 1.75,-7.85 L0.45,0 Z" transform="rotate(300)"/><circle r="1.3"/></g>
<g transform="translate(926.7,959)" fill="#000"><path d="M-0.45,0 L-1.75,-7.85 A1.75,1.75 0 1 1 1.75,-7.85 L0.45,0 Z" transform="rotate(0)"/><path d="M-0.45,0 L-1.75,-7.85 A1.75,1.75 0 1 1 1.75,-7.85 L0.45,0 Z" transform="rotate(60)"/><path d="M-0.45,0 L-1.75,-7.85 A1.75,1.75 0 1 1 1.75,-7.85 L0.45,0 Z" transform="rotate(120)"/><path d="M-0.45,0 L-1.75,-7.85 A1.75,1.75 0 1 1 1.75,-7.85 L0.45,0 Z" transform="rotate(180)"/><path d="M-0.45,0 L-1.75,-7.85 A1.75,1.75 0 1 1 1.75,-7.85 L0.45,0 Z" transform="rotate(240)"/><path d="M-0.45,0 L-1.75,-7.85 A1.75,1.75 0 1 1 1.75,-7.85 L0.45,0 Z" transform="rotate(300)"/><circle r="1.3"/></g>
<g transform="translate(1109,904.2)" fill="#000"><path d="M-0.45,0 L-1.75,-7.85 A1.75,1.75 0 1 1 1.75,-7.85 L0.45,0 Z" transform="rotate(0)"/><path d="M-0.45,0 L-1.75,-7.85 A1.75,1.75 0 1 1 1.75,-7.85 L0.45,0 Z" transform="rotate(60)"/><path d="M-0.45,0 L-1.75,-7.85 A1.75,1.75 0 1 1 1.75,-7.85 L0.45,0 Z" transform="rotate(120)"/><path d="M-0.45,0 L-1.75,-7.85 A1.75,1.75 0 1 1 1.75,-7.85 L0.45,0 Z" transform="rotate(180)"/><path d="M-0.45,0 L-1.75,-7.85 A1.75,1.75 0 1 1 1.75,-7.85 L0.45,0 Z" transform="rotate(240)"/><path d="M-0.45,0 L-1.75,-7.85 A1.75,1.75 0 1 1 1.75,-7.85 L0.45,0 Z" transform="rotate(300)"/><circle r="1.3"/></g>
<g transform="translate(1158.7,941.8)" fill="#000"><path d="M-0.45,0 L-1.75,-7.85 A1.75,1.75 0 1 1 1.75,-7.85 L0.45,0 Z" transform="rotate(0)"/><path d="M-0.45,0 L-1.75,-7.85 A1.75,1.75 0 1 1 1.75,-7.85 L0.45,0 Z" transform="rotate(60)"/><path d="M-0.45,0 L-1.75,-7.85 A1.75,1.75 0 1 1 1.75,-7.85 L0.45,0 Z" transform="rotate(120)"/><path d="M-0.45,0 L-1.75,-7.85 A1.75,1.75 0 1 1 1.75,-7.85 L0.45,0 Z" transform="rotate(180)"/><path d="M-0.45,0 L-1.75,-7.85 A1.75,1.75 0 1 1 1.75,-7.85 L0.45,0 Z" transform="rotate(240)"/><path d="M-0.45,0 L-1.75,-7.85 A1.75,1.75 0 1 1 1.75,-7.85 L0.45,0 Z" transform="rotate(300)"/><circle r="1.3"/></g>
<g transform="translate(1208.4,904.2)" fill="#000"><path d="M-0.45,0 L-1.75,-7.85 A1.75,1.75 0 1 1 1.75,-7.85 L0.45,0 Z" transform="rotate(0)"/><path d="M-0.45,0 L-1.75,-7.85 A1.75,1.75 0 1 1 1.75,-7.85 L0.45,0 Z" transform="rotate(60)"/><path d="M-0.45,0 L-1.75,-7.85 A1.75,1.75 0 1 1 1.75,-7.85 L0.45,0 Z" transform="rotate(120)"/><path d="M-0.45,0 L-1.75,-7.85 A1.75,1.75 0 1 1 1.75,-7.85 L0.45,0 Z" transform="rotate(180)"/><path d="M-0.45,0 L-1.75,-7.85 A1.75,1.75 0 1 1 1.75,-7.85 L0.45,0 Z" transform="rotate(240)"/><path d="M-0.45,0 L-1.75,-7.85 A1.75,1.75 0 1 1 1.75,-7.85 L0.45,0 Z" transform="rotate(300)"/><circle r="1.3"/></g>
<text x="275" y="1268.9" font-size="42" font-weight="bold" fill="#000" text-anchor="middle">GABA</text>
<text x="549.9" y="1268.9" font-size="42" font-weight="bold" fill="#000" text-anchor="middle">Glycine</text>
<text x="833.4" y="1268.9" font-size="42" font-weight="bold" fill="#000" text-anchor="middle">Glutamate</text>
<text x="1112.4" y="1268.9" font-size="42" font-weight="bold" fill="#000" text-anchor="middle">ChAT</text>
<text transform="translate(73,1005.2) rotate(-90)" font-size="38.5" font-weight="bold" text-anchor="middle">Neurons per 100 <tspan font-weight="normal">µ</tspan>m</text>
<rect x="642.2" y="733" width="51.6" height="49.6" fill="#000"/>
<rect x="647.6" y="738.3" width="41" height="39" fill="#646464"/>
<rect x="642.2" y="791.1" width="52.3" height="48.6" fill="#000"/>
<rect x="647.6" y="796.4" width="41.7" height="38" fill="url(#pstair)"/>
<rect x="900.8" y="736.4" width="50" height="46.1" fill="#000"/>
<rect x="906.2" y="741.7" width="39.4" height="35.5" fill="url(#ldotw)"/>
<rect x="900.8" y="791.2" width="50" height="45.9" fill="#000"/>
<rect x="906.2" y="796.5" width="39.4" height="35.3" fill="url(#ltrel)"/>
<rect x="900.8" y="845.6" width="50" height="46.1" fill="#000"/>
<rect x="906.2" y="850.9" width="39.4" height="35.5" fill="url(#ldotg)"/>
<text x="700.6" y="770" font-size="30.9" font-weight="normal" fill="#000" text-anchor="start">Control</text>
<text x="701.3" y="826" font-size="30.9" font-weight="normal" fill="#000" text-anchor="start">Control MO</text>
<text x="958.2" y="772" font-size="30.9" font-weight="normal" fill="#000" text-anchor="start"><tspan font-style="italic">GAD</tspan> MOs</text>
<text x="958.6" y="826.2" font-size="30.9" font-weight="normal" fill="#000" text-anchor="start">GABAR antagonists</text>
<text x="958.2" y="879.1" font-size="30.9" font-weight="normal" fill="#000" text-anchor="start">GluR antagonists</text>
</g>
</svg>
</body></html>
